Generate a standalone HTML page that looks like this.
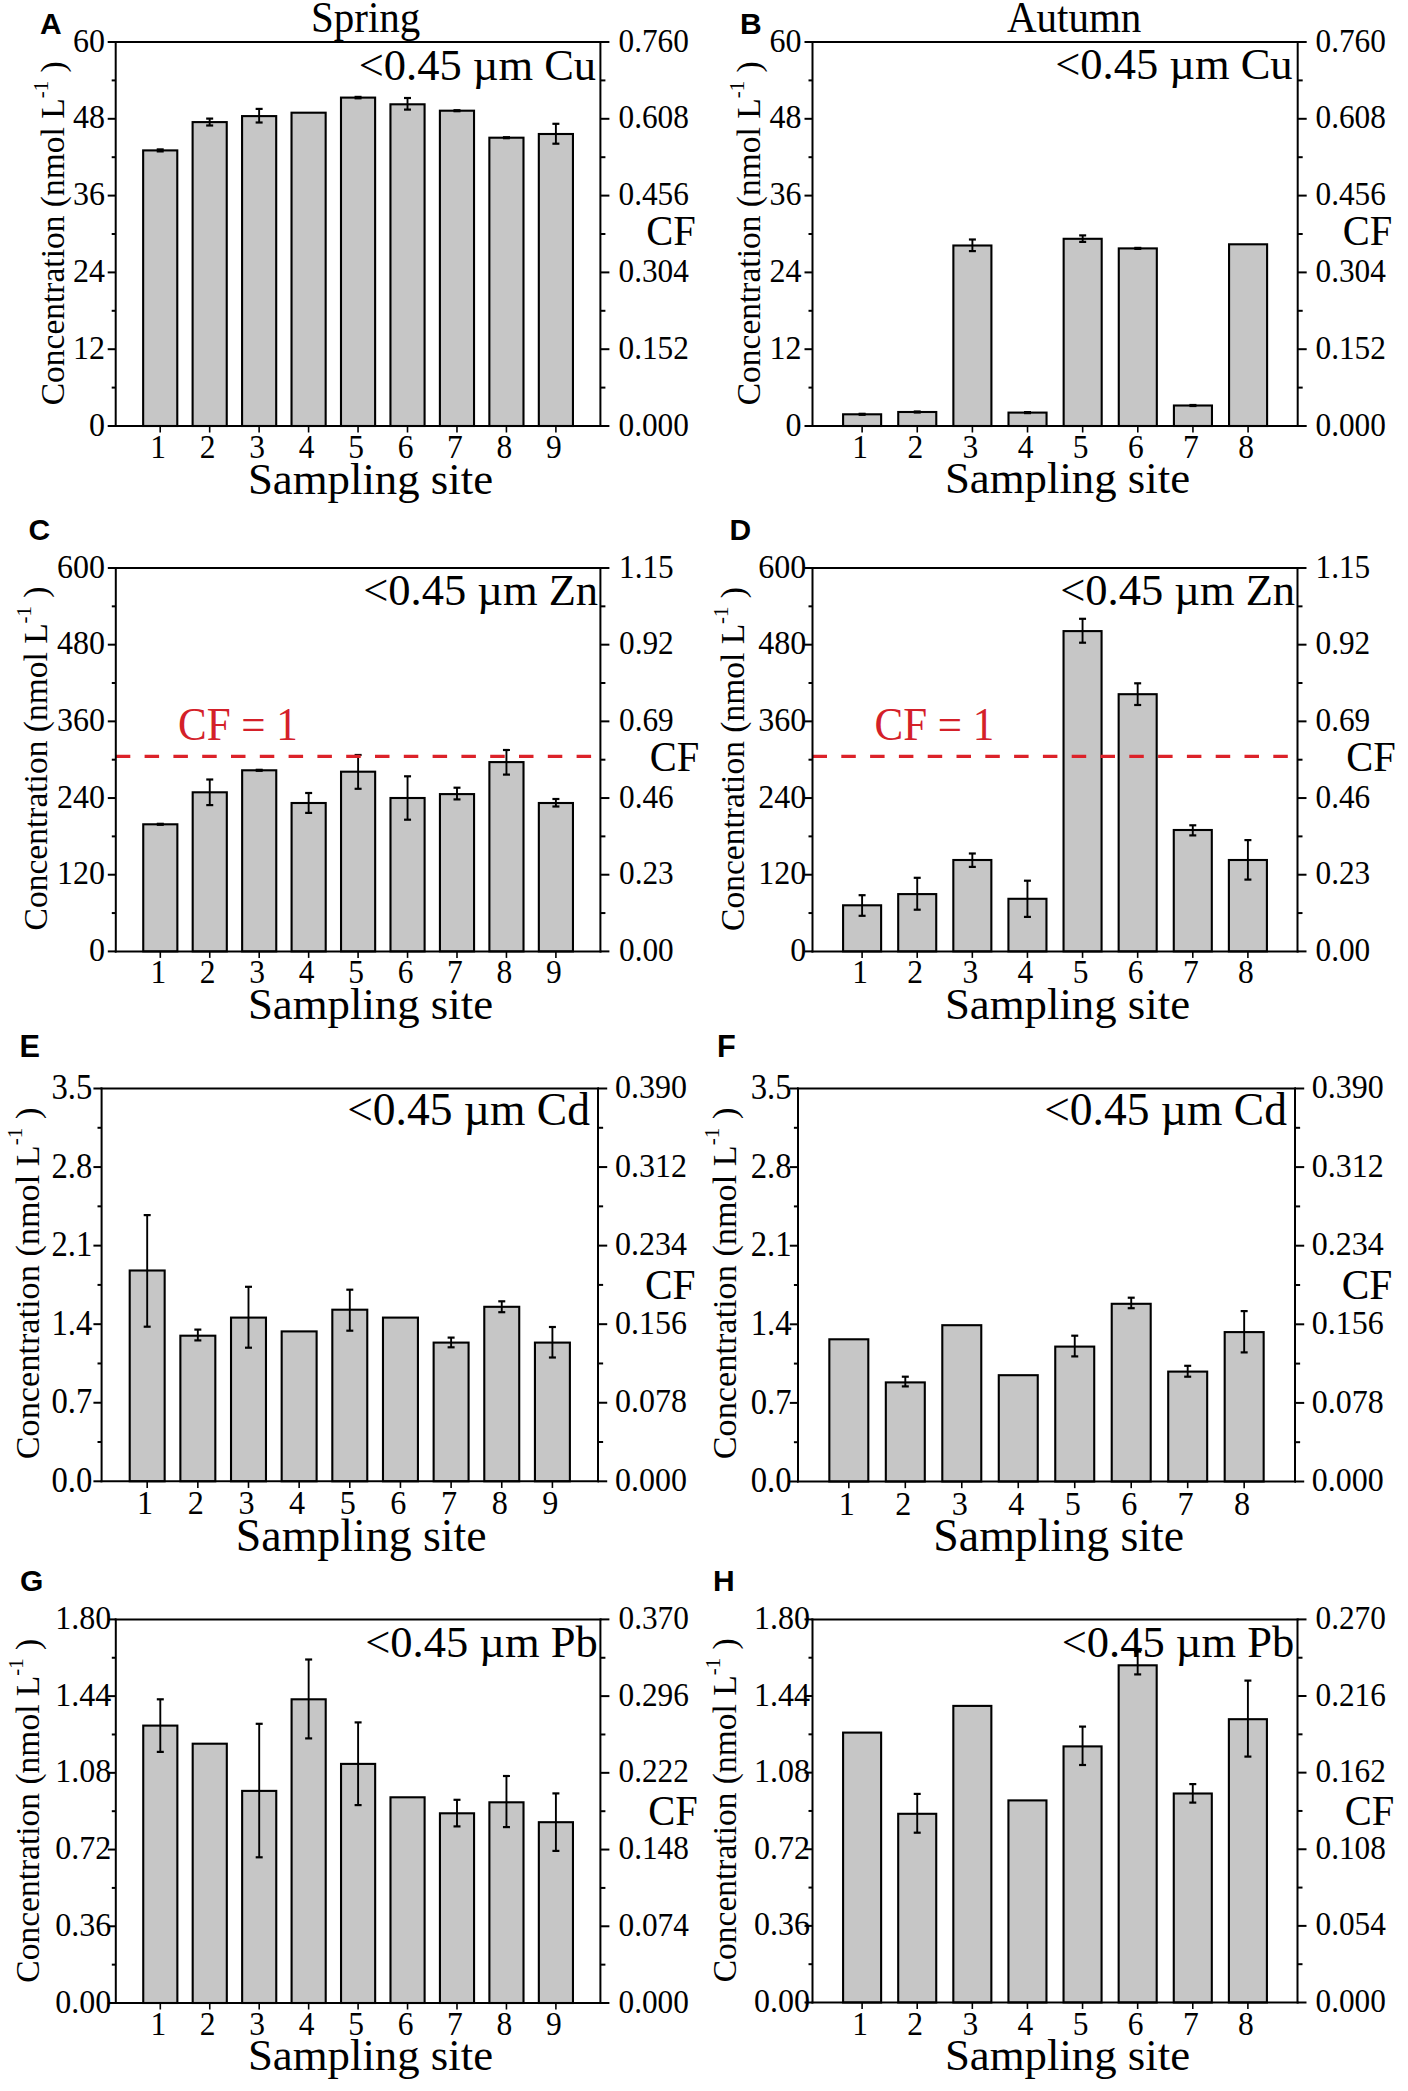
<!DOCTYPE html>
<html><head><meta charset="utf-8"><style>
html,body{margin:0;padding:0;background:#fff;width:1408px;height:2091px;overflow:hidden}
svg{display:block}
</style></head><body>
<svg width="1408" height="2091" viewBox="0 0 1408 2091">
<rect width="1408" height="2091" fill="#fff"/>
<text transform="translate(311,32.3) scale(1,1.06)" font-size="41" text-anchor="start" fill="#000" font-family='"Liberation Serif", serif' font-weight="normal" >Spring</text>
<text transform="translate(1007,32.4) scale(1,1.06)" font-size="41" text-anchor="start" fill="#000" font-family='"Liberation Serif", serif' font-weight="normal" >Autumn</text>
<rect x="143.15" y="150.4" width="34.13" height="275.6" fill="#c6c6c6" stroke="#000" stroke-width="2.1"/>
<rect x="192.61" y="122.1" width="34.13" height="303.9" fill="#c6c6c6" stroke="#000" stroke-width="2.1"/>
<rect x="242.07" y="116.1" width="34.13" height="309.9" fill="#c6c6c6" stroke="#000" stroke-width="2.1"/>
<rect x="291.53" y="112.7" width="34.13" height="313.3" fill="#c6c6c6" stroke="#000" stroke-width="2.1"/>
<rect x="340.99" y="97.6" width="34.13" height="328.4" fill="#c6c6c6" stroke="#000" stroke-width="2.1"/>
<rect x="390.45" y="104.3" width="34.13" height="321.7" fill="#c6c6c6" stroke="#000" stroke-width="2.1"/>
<rect x="439.9" y="110.7" width="34.13" height="315.3" fill="#c6c6c6" stroke="#000" stroke-width="2.1"/>
<rect x="489.36" y="137.7" width="34.13" height="288.3" fill="#c6c6c6" stroke="#000" stroke-width="2.1"/>
<rect x="538.82" y="134" width="34.13" height="292" fill="#c6c6c6" stroke="#000" stroke-width="2.1"/>
<line x1="160.21" y1="149.4" x2="160.21" y2="151.4" stroke="#000" stroke-width="1.9" />
<line x1="156.71" y1="149.4" x2="163.71" y2="149.4" stroke="#000" stroke-width="2.2" />
<line x1="156.71" y1="151.4" x2="163.71" y2="151.4" stroke="#000" stroke-width="2.2" />
<line x1="209.67" y1="118.6" x2="209.67" y2="125.5" stroke="#000" stroke-width="1.9" />
<line x1="206.17" y1="118.6" x2="213.17" y2="118.6" stroke="#000" stroke-width="2.2" />
<line x1="206.17" y1="125.5" x2="213.17" y2="125.5" stroke="#000" stroke-width="2.2" />
<line x1="259.13" y1="108.9" x2="259.13" y2="122.5" stroke="#000" stroke-width="1.9" />
<line x1="255.63" y1="108.9" x2="262.63" y2="108.9" stroke="#000" stroke-width="2.2" />
<line x1="255.63" y1="122.5" x2="262.63" y2="122.5" stroke="#000" stroke-width="2.2" />
<line x1="358.05" y1="96.9" x2="358.05" y2="98.3" stroke="#000" stroke-width="1.9" />
<line x1="354.55" y1="96.9" x2="361.55" y2="96.9" stroke="#000" stroke-width="2.2" />
<line x1="354.55" y1="98.3" x2="361.55" y2="98.3" stroke="#000" stroke-width="2.2" />
<line x1="407.51" y1="98" x2="407.51" y2="109.6" stroke="#000" stroke-width="1.9" />
<line x1="404.01" y1="98" x2="411.01" y2="98" stroke="#000" stroke-width="2.2" />
<line x1="404.01" y1="109.6" x2="411.01" y2="109.6" stroke="#000" stroke-width="2.2" />
<line x1="456.97" y1="110.2" x2="456.97" y2="111.2" stroke="#000" stroke-width="1.9" />
<line x1="453.47" y1="110.2" x2="460.47" y2="110.2" stroke="#000" stroke-width="2.2" />
<line x1="453.47" y1="111.2" x2="460.47" y2="111.2" stroke="#000" stroke-width="2.2" />
<line x1="506.43" y1="137.2" x2="506.43" y2="138.2" stroke="#000" stroke-width="1.9" />
<line x1="502.93" y1="137.2" x2="509.93" y2="137.2" stroke="#000" stroke-width="2.2" />
<line x1="502.93" y1="138.2" x2="509.93" y2="138.2" stroke="#000" stroke-width="2.2" />
<line x1="555.89" y1="123.8" x2="555.89" y2="143.7" stroke="#000" stroke-width="1.9" />
<line x1="552.39" y1="123.8" x2="559.39" y2="123.8" stroke="#000" stroke-width="2.2" />
<line x1="552.39" y1="143.7" x2="559.39" y2="143.7" stroke="#000" stroke-width="2.2" />
<line x1="115.7" y1="42" x2="600.4" y2="42" stroke="#000" stroke-width="2" stroke-linecap="square"/>
<line x1="115.7" y1="426" x2="600.4" y2="426" stroke="#000" stroke-width="2" stroke-linecap="square"/>
<line x1="115.7" y1="42" x2="115.7" y2="426" stroke="#000" stroke-width="2" stroke-linecap="square"/>
<line x1="600.4" y1="42" x2="600.4" y2="426" stroke="#000" stroke-width="2" stroke-linecap="square"/>
<line x1="107.7" y1="426" x2="115.7" y2="426" stroke="#000" stroke-width="2" />
<line x1="600.4" y1="426" x2="609.4" y2="426" stroke="#000" stroke-width="2" />
<line x1="111.7" y1="387.6" x2="115.7" y2="387.6" stroke="#000" stroke-width="2" />
<line x1="600.4" y1="387.6" x2="605.4" y2="387.6" stroke="#000" stroke-width="2" />
<text transform="translate(105,435.5) scale(1,1.08)" font-size="32" text-anchor="end" fill="#000" font-family='"Liberation Serif", serif' font-weight="normal" >0</text>
<text transform="translate(618.5,435.5) scale(1,1.05)" font-size="31.3" text-anchor="start" fill="#000" font-family='"Liberation Serif", serif' font-weight="normal" >0.000</text>
<line x1="107.7" y1="349.2" x2="115.7" y2="349.2" stroke="#000" stroke-width="2" />
<line x1="600.4" y1="349.2" x2="609.4" y2="349.2" stroke="#000" stroke-width="2" />
<line x1="111.7" y1="310.8" x2="115.7" y2="310.8" stroke="#000" stroke-width="2" />
<line x1="600.4" y1="310.8" x2="605.4" y2="310.8" stroke="#000" stroke-width="2" />
<text transform="translate(105,358.7) scale(1,1.08)" font-size="32" text-anchor="end" fill="#000" font-family='"Liberation Serif", serif' font-weight="normal" >12</text>
<text transform="translate(618.5,358.7) scale(1,1.05)" font-size="31.3" text-anchor="start" fill="#000" font-family='"Liberation Serif", serif' font-weight="normal" >0.152</text>
<line x1="107.7" y1="272.4" x2="115.7" y2="272.4" stroke="#000" stroke-width="2" />
<line x1="600.4" y1="272.4" x2="609.4" y2="272.4" stroke="#000" stroke-width="2" />
<line x1="111.7" y1="234" x2="115.7" y2="234" stroke="#000" stroke-width="2" />
<line x1="600.4" y1="234" x2="605.4" y2="234" stroke="#000" stroke-width="2" />
<text transform="translate(105,281.9) scale(1,1.08)" font-size="32" text-anchor="end" fill="#000" font-family='"Liberation Serif", serif' font-weight="normal" >24</text>
<text transform="translate(618.5,281.9) scale(1,1.05)" font-size="31.3" text-anchor="start" fill="#000" font-family='"Liberation Serif", serif' font-weight="normal" >0.304</text>
<line x1="107.7" y1="195.6" x2="115.7" y2="195.6" stroke="#000" stroke-width="2" />
<line x1="600.4" y1="195.6" x2="609.4" y2="195.6" stroke="#000" stroke-width="2" />
<line x1="111.7" y1="157.2" x2="115.7" y2="157.2" stroke="#000" stroke-width="2" />
<line x1="600.4" y1="157.2" x2="605.4" y2="157.2" stroke="#000" stroke-width="2" />
<text transform="translate(105,205.1) scale(1,1.08)" font-size="32" text-anchor="end" fill="#000" font-family='"Liberation Serif", serif' font-weight="normal" >36</text>
<text transform="translate(618.5,205.1) scale(1,1.05)" font-size="31.3" text-anchor="start" fill="#000" font-family='"Liberation Serif", serif' font-weight="normal" >0.456</text>
<line x1="107.7" y1="118.8" x2="115.7" y2="118.8" stroke="#000" stroke-width="2" />
<line x1="600.4" y1="118.8" x2="609.4" y2="118.8" stroke="#000" stroke-width="2" />
<line x1="111.7" y1="80.4" x2="115.7" y2="80.4" stroke="#000" stroke-width="2" />
<line x1="600.4" y1="80.4" x2="605.4" y2="80.4" stroke="#000" stroke-width="2" />
<text transform="translate(105,128.3) scale(1,1.08)" font-size="32" text-anchor="end" fill="#000" font-family='"Liberation Serif", serif' font-weight="normal" >48</text>
<text transform="translate(618.5,128.3) scale(1,1.05)" font-size="31.3" text-anchor="start" fill="#000" font-family='"Liberation Serif", serif' font-weight="normal" >0.608</text>
<line x1="107.7" y1="42" x2="115.7" y2="42" stroke="#000" stroke-width="2" />
<line x1="600.4" y1="42" x2="609.4" y2="42" stroke="#000" stroke-width="2" />
<text transform="translate(105,51.5) scale(1,1.08)" font-size="32" text-anchor="end" fill="#000" font-family='"Liberation Serif", serif' font-weight="normal" >60</text>
<text transform="translate(618.5,51.5) scale(1,1.05)" font-size="31.3" text-anchor="start" fill="#000" font-family='"Liberation Serif", serif' font-weight="normal" >0.760</text>
<line x1="160.21" y1="426" x2="160.21" y2="432.5" stroke="#000" stroke-width="1.6" />
<text transform="translate(158.21,457.5) scale(1,1.07)" font-size="31.5" text-anchor="middle" fill="#000" font-family='"Liberation Serif", serif' font-weight="normal" >1</text>
<line x1="209.67" y1="426" x2="209.67" y2="432.5" stroke="#000" stroke-width="1.6" />
<text transform="translate(207.67,457.5) scale(1,1.07)" font-size="31.5" text-anchor="middle" fill="#000" font-family='"Liberation Serif", serif' font-weight="normal" >2</text>
<line x1="259.13" y1="426" x2="259.13" y2="432.5" stroke="#000" stroke-width="1.6" />
<text transform="translate(257.13,457.5) scale(1,1.07)" font-size="31.5" text-anchor="middle" fill="#000" font-family='"Liberation Serif", serif' font-weight="normal" >3</text>
<line x1="308.59" y1="426" x2="308.59" y2="432.5" stroke="#000" stroke-width="1.6" />
<text transform="translate(306.59,457.5) scale(1,1.07)" font-size="31.5" text-anchor="middle" fill="#000" font-family='"Liberation Serif", serif' font-weight="normal" >4</text>
<line x1="358.05" y1="426" x2="358.05" y2="432.5" stroke="#000" stroke-width="1.6" />
<text transform="translate(356.05,457.5) scale(1,1.07)" font-size="31.5" text-anchor="middle" fill="#000" font-family='"Liberation Serif", serif' font-weight="normal" >5</text>
<line x1="407.51" y1="426" x2="407.51" y2="432.5" stroke="#000" stroke-width="1.6" />
<text transform="translate(405.51,457.5) scale(1,1.07)" font-size="31.5" text-anchor="middle" fill="#000" font-family='"Liberation Serif", serif' font-weight="normal" >6</text>
<line x1="456.97" y1="426" x2="456.97" y2="432.5" stroke="#000" stroke-width="1.6" />
<text transform="translate(454.97,457.5) scale(1,1.07)" font-size="31.5" text-anchor="middle" fill="#000" font-family='"Liberation Serif", serif' font-weight="normal" >7</text>
<line x1="506.43" y1="426" x2="506.43" y2="432.5" stroke="#000" stroke-width="1.6" />
<text transform="translate(504.43,457.5) scale(1,1.07)" font-size="31.5" text-anchor="middle" fill="#000" font-family='"Liberation Serif", serif' font-weight="normal" >8</text>
<line x1="555.89" y1="426" x2="555.89" y2="432.5" stroke="#000" stroke-width="1.6" />
<text transform="translate(553.89,457.5) scale(1,1.07)" font-size="31.5" text-anchor="middle" fill="#000" font-family='"Liberation Serif", serif' font-weight="normal" >9</text>
<text x="247.9" y="493.7" font-size="44.8" text-anchor="start" fill="#000" font-family='"Liberation Serif", serif' font-weight="normal" >Sampling site</text>
<text x="358.7" y="79.5" font-size="44.5" text-anchor="start" fill="#000" font-family='"Liberation Serif", serif' font-weight="normal" >&lt;0.45 µm Cu</text>
<text transform="translate(646.3,245.3) scale(1,1.02)" font-size="40.5" text-anchor="start" fill="#000" font-family='"Liberation Serif", serif' font-weight="normal" >CF</text>
<text x="40" y="33.8" font-size="30" text-anchor="start" fill="#000" font-family='"Liberation Sans", sans-serif' font-weight="bold" >A</text>
<text transform="translate(64.3,405.3) rotate(-90)" font-size="33.5" font-family='"Liberation Serif", serif'>Concentration (nmol L<tspan font-size="20.77" dy="-16.08">-1</tspan><tspan dy="16.08" dx="8.38">)</tspan></text>
<rect x="843.1" y="414.3" width="38.04" height="11.7" fill="#c6c6c6" stroke="#000" stroke-width="2.1"/>
<rect x="898.24" y="412" width="38.04" height="14" fill="#c6c6c6" stroke="#000" stroke-width="2.1"/>
<rect x="953.37" y="245.5" width="38.04" height="180.5" fill="#c6c6c6" stroke="#000" stroke-width="2.1"/>
<rect x="1008.51" y="412.6" width="38.04" height="13.4" fill="#c6c6c6" stroke="#000" stroke-width="2.1"/>
<rect x="1063.65" y="238.8" width="38.04" height="187.2" fill="#c6c6c6" stroke="#000" stroke-width="2.1"/>
<rect x="1118.78" y="248.4" width="38.04" height="177.6" fill="#c6c6c6" stroke="#000" stroke-width="2.1"/>
<rect x="1173.92" y="405.5" width="38.04" height="20.5" fill="#c6c6c6" stroke="#000" stroke-width="2.1"/>
<rect x="1229.06" y="244.3" width="38.04" height="181.7" fill="#c6c6c6" stroke="#000" stroke-width="2.1"/>
<line x1="862.12" y1="413.8" x2="862.12" y2="414.8" stroke="#000" stroke-width="1.9" />
<line x1="858.62" y1="413.8" x2="865.62" y2="413.8" stroke="#000" stroke-width="2.2" />
<line x1="858.62" y1="414.8" x2="865.62" y2="414.8" stroke="#000" stroke-width="2.2" />
<line x1="917.26" y1="411.5" x2="917.26" y2="412.5" stroke="#000" stroke-width="1.9" />
<line x1="913.76" y1="411.5" x2="920.76" y2="411.5" stroke="#000" stroke-width="2.2" />
<line x1="913.76" y1="412.5" x2="920.76" y2="412.5" stroke="#000" stroke-width="2.2" />
<line x1="972.4" y1="239.5" x2="972.4" y2="251.1" stroke="#000" stroke-width="1.9" />
<line x1="968.9" y1="239.5" x2="975.9" y2="239.5" stroke="#000" stroke-width="2.2" />
<line x1="968.9" y1="251.1" x2="975.9" y2="251.1" stroke="#000" stroke-width="2.2" />
<line x1="1027.53" y1="412.1" x2="1027.53" y2="413.1" stroke="#000" stroke-width="1.9" />
<line x1="1024.03" y1="412.1" x2="1031.03" y2="412.1" stroke="#000" stroke-width="2.2" />
<line x1="1024.03" y1="413.1" x2="1031.03" y2="413.1" stroke="#000" stroke-width="2.2" />
<line x1="1082.67" y1="235.4" x2="1082.67" y2="241.9" stroke="#000" stroke-width="1.9" />
<line x1="1079.17" y1="235.4" x2="1086.17" y2="235.4" stroke="#000" stroke-width="2.2" />
<line x1="1079.17" y1="241.9" x2="1086.17" y2="241.9" stroke="#000" stroke-width="2.2" />
<line x1="1137.8" y1="247.9" x2="1137.8" y2="248.9" stroke="#000" stroke-width="1.9" />
<line x1="1134.3" y1="247.9" x2="1141.3" y2="247.9" stroke="#000" stroke-width="2.2" />
<line x1="1134.3" y1="248.9" x2="1141.3" y2="248.9" stroke="#000" stroke-width="2.2" />
<line x1="1192.94" y1="405" x2="1192.94" y2="406" stroke="#000" stroke-width="1.9" />
<line x1="1189.44" y1="405" x2="1196.44" y2="405" stroke="#000" stroke-width="2.2" />
<line x1="1189.44" y1="406" x2="1196.44" y2="406" stroke="#000" stroke-width="2.2" />
<line x1="812.5" y1="42" x2="1297.7" y2="42" stroke="#000" stroke-width="2" stroke-linecap="square"/>
<line x1="812.5" y1="426" x2="1297.7" y2="426" stroke="#000" stroke-width="2" stroke-linecap="square"/>
<line x1="812.5" y1="42" x2="812.5" y2="426" stroke="#000" stroke-width="2" stroke-linecap="square"/>
<line x1="1297.7" y1="42" x2="1297.7" y2="426" stroke="#000" stroke-width="2" stroke-linecap="square"/>
<line x1="804.5" y1="426" x2="812.5" y2="426" stroke="#000" stroke-width="2" />
<line x1="1297.7" y1="426" x2="1306.7" y2="426" stroke="#000" stroke-width="2" />
<line x1="808.5" y1="387.6" x2="812.5" y2="387.6" stroke="#000" stroke-width="2" />
<line x1="1297.7" y1="387.6" x2="1302.7" y2="387.6" stroke="#000" stroke-width="2" />
<text transform="translate(801.4,435.5) scale(1,1.08)" font-size="32" text-anchor="end" fill="#000" font-family='"Liberation Serif", serif' font-weight="normal" >0</text>
<text transform="translate(1315.5,435.5) scale(1,1.05)" font-size="31.3" text-anchor="start" fill="#000" font-family='"Liberation Serif", serif' font-weight="normal" >0.000</text>
<line x1="804.5" y1="349.2" x2="812.5" y2="349.2" stroke="#000" stroke-width="2" />
<line x1="1297.7" y1="349.2" x2="1306.7" y2="349.2" stroke="#000" stroke-width="2" />
<line x1="808.5" y1="310.8" x2="812.5" y2="310.8" stroke="#000" stroke-width="2" />
<line x1="1297.7" y1="310.8" x2="1302.7" y2="310.8" stroke="#000" stroke-width="2" />
<text transform="translate(801.4,358.7) scale(1,1.08)" font-size="32" text-anchor="end" fill="#000" font-family='"Liberation Serif", serif' font-weight="normal" >12</text>
<text transform="translate(1315.5,358.7) scale(1,1.05)" font-size="31.3" text-anchor="start" fill="#000" font-family='"Liberation Serif", serif' font-weight="normal" >0.152</text>
<line x1="804.5" y1="272.4" x2="812.5" y2="272.4" stroke="#000" stroke-width="2" />
<line x1="1297.7" y1="272.4" x2="1306.7" y2="272.4" stroke="#000" stroke-width="2" />
<line x1="808.5" y1="234" x2="812.5" y2="234" stroke="#000" stroke-width="2" />
<line x1="1297.7" y1="234" x2="1302.7" y2="234" stroke="#000" stroke-width="2" />
<text transform="translate(801.4,281.9) scale(1,1.08)" font-size="32" text-anchor="end" fill="#000" font-family='"Liberation Serif", serif' font-weight="normal" >24</text>
<text transform="translate(1315.5,281.9) scale(1,1.05)" font-size="31.3" text-anchor="start" fill="#000" font-family='"Liberation Serif", serif' font-weight="normal" >0.304</text>
<line x1="804.5" y1="195.6" x2="812.5" y2="195.6" stroke="#000" stroke-width="2" />
<line x1="1297.7" y1="195.6" x2="1306.7" y2="195.6" stroke="#000" stroke-width="2" />
<line x1="808.5" y1="157.2" x2="812.5" y2="157.2" stroke="#000" stroke-width="2" />
<line x1="1297.7" y1="157.2" x2="1302.7" y2="157.2" stroke="#000" stroke-width="2" />
<text transform="translate(801.4,205.1) scale(1,1.08)" font-size="32" text-anchor="end" fill="#000" font-family='"Liberation Serif", serif' font-weight="normal" >36</text>
<text transform="translate(1315.5,205.1) scale(1,1.05)" font-size="31.3" text-anchor="start" fill="#000" font-family='"Liberation Serif", serif' font-weight="normal" >0.456</text>
<line x1="804.5" y1="118.8" x2="812.5" y2="118.8" stroke="#000" stroke-width="2" />
<line x1="1297.7" y1="118.8" x2="1306.7" y2="118.8" stroke="#000" stroke-width="2" />
<line x1="808.5" y1="80.4" x2="812.5" y2="80.4" stroke="#000" stroke-width="2" />
<line x1="1297.7" y1="80.4" x2="1302.7" y2="80.4" stroke="#000" stroke-width="2" />
<text transform="translate(801.4,128.3) scale(1,1.08)" font-size="32" text-anchor="end" fill="#000" font-family='"Liberation Serif", serif' font-weight="normal" >48</text>
<text transform="translate(1315.5,128.3) scale(1,1.05)" font-size="31.3" text-anchor="start" fill="#000" font-family='"Liberation Serif", serif' font-weight="normal" >0.608</text>
<line x1="804.5" y1="42" x2="812.5" y2="42" stroke="#000" stroke-width="2" />
<line x1="1297.7" y1="42" x2="1306.7" y2="42" stroke="#000" stroke-width="2" />
<text transform="translate(801.4,51.5) scale(1,1.08)" font-size="32" text-anchor="end" fill="#000" font-family='"Liberation Serif", serif' font-weight="normal" >60</text>
<text transform="translate(1315.5,51.5) scale(1,1.05)" font-size="31.3" text-anchor="start" fill="#000" font-family='"Liberation Serif", serif' font-weight="normal" >0.760</text>
<line x1="862.12" y1="426" x2="862.12" y2="432.5" stroke="#000" stroke-width="1.6" />
<text transform="translate(860.12,457.5) scale(1,1.07)" font-size="31.5" text-anchor="middle" fill="#000" font-family='"Liberation Serif", serif' font-weight="normal" >1</text>
<line x1="917.26" y1="426" x2="917.26" y2="432.5" stroke="#000" stroke-width="1.6" />
<text transform="translate(915.26,457.5) scale(1,1.07)" font-size="31.5" text-anchor="middle" fill="#000" font-family='"Liberation Serif", serif' font-weight="normal" >2</text>
<line x1="972.4" y1="426" x2="972.4" y2="432.5" stroke="#000" stroke-width="1.6" />
<text transform="translate(970.4,457.5) scale(1,1.07)" font-size="31.5" text-anchor="middle" fill="#000" font-family='"Liberation Serif", serif' font-weight="normal" >3</text>
<line x1="1027.53" y1="426" x2="1027.53" y2="432.5" stroke="#000" stroke-width="1.6" />
<text transform="translate(1025.53,457.5) scale(1,1.07)" font-size="31.5" text-anchor="middle" fill="#000" font-family='"Liberation Serif", serif' font-weight="normal" >4</text>
<line x1="1082.67" y1="426" x2="1082.67" y2="432.5" stroke="#000" stroke-width="1.6" />
<text transform="translate(1080.67,457.5) scale(1,1.07)" font-size="31.5" text-anchor="middle" fill="#000" font-family='"Liberation Serif", serif' font-weight="normal" >5</text>
<line x1="1137.8" y1="426" x2="1137.8" y2="432.5" stroke="#000" stroke-width="1.6" />
<text transform="translate(1135.8,457.5) scale(1,1.07)" font-size="31.5" text-anchor="middle" fill="#000" font-family='"Liberation Serif", serif' font-weight="normal" >6</text>
<line x1="1192.94" y1="426" x2="1192.94" y2="432.5" stroke="#000" stroke-width="1.6" />
<text transform="translate(1190.94,457.5) scale(1,1.07)" font-size="31.5" text-anchor="middle" fill="#000" font-family='"Liberation Serif", serif' font-weight="normal" >7</text>
<line x1="1248.08" y1="426" x2="1248.08" y2="432.5" stroke="#000" stroke-width="1.6" />
<text transform="translate(1246.08,457.5) scale(1,1.07)" font-size="31.5" text-anchor="middle" fill="#000" font-family='"Liberation Serif", serif' font-weight="normal" >8</text>
<text x="944.9" y="493.2" font-size="44.8" text-anchor="start" fill="#000" font-family='"Liberation Serif", serif' font-weight="normal" >Sampling site</text>
<text x="1055.2" y="79" font-size="44.5" text-anchor="start" fill="#000" font-family='"Liberation Serif", serif' font-weight="normal" >&lt;0.45 µm Cu</text>
<text transform="translate(1342.8,245.3) scale(1,1.02)" font-size="40.5" text-anchor="start" fill="#000" font-family='"Liberation Serif", serif' font-weight="normal" >CF</text>
<text x="740" y="33.8" font-size="30" text-anchor="start" fill="#000" font-family='"Liberation Sans", sans-serif' font-weight="bold" >B</text>
<text transform="translate(760.3,405.3) rotate(-90)" font-size="33.5" font-family='"Liberation Serif", serif'>Concentration (nmol L<tspan font-size="20.77" dy="-16.08">-1</tspan><tspan dy="16.08" dx="8.38">)</tspan></text>
<rect x="143.24" y="824.3" width="34.12" height="127.1" fill="#c6c6c6" stroke="#000" stroke-width="2.1"/>
<rect x="192.69" y="792.3" width="34.12" height="159.1" fill="#c6c6c6" stroke="#000" stroke-width="2.1"/>
<rect x="242.14" y="770.3" width="34.12" height="181.1" fill="#c6c6c6" stroke="#000" stroke-width="2.1"/>
<rect x="291.59" y="803" width="34.12" height="148.4" fill="#c6c6c6" stroke="#000" stroke-width="2.1"/>
<rect x="341.04" y="771.7" width="34.12" height="179.7" fill="#c6c6c6" stroke="#000" stroke-width="2.1"/>
<rect x="390.49" y="798" width="34.12" height="153.4" fill="#c6c6c6" stroke="#000" stroke-width="2.1"/>
<rect x="439.94" y="794.1" width="34.12" height="157.3" fill="#c6c6c6" stroke="#000" stroke-width="2.1"/>
<rect x="489.39" y="762.1" width="34.12" height="189.3" fill="#c6c6c6" stroke="#000" stroke-width="2.1"/>
<rect x="538.84" y="803" width="34.12" height="148.4" fill="#c6c6c6" stroke="#000" stroke-width="2.1"/>
<line x1="160.3" y1="823.8" x2="160.3" y2="824.8" stroke="#000" stroke-width="1.9" />
<line x1="156.8" y1="823.8" x2="163.8" y2="823.8" stroke="#000" stroke-width="2.2" />
<line x1="156.8" y1="824.8" x2="163.8" y2="824.8" stroke="#000" stroke-width="2.2" />
<line x1="209.75" y1="779.5" x2="209.75" y2="805.1" stroke="#000" stroke-width="1.9" />
<line x1="206.25" y1="779.5" x2="213.25" y2="779.5" stroke="#000" stroke-width="2.2" />
<line x1="206.25" y1="805.1" x2="213.25" y2="805.1" stroke="#000" stroke-width="2.2" />
<line x1="259.2" y1="769.8" x2="259.2" y2="770.8" stroke="#000" stroke-width="1.9" />
<line x1="255.7" y1="769.8" x2="262.7" y2="769.8" stroke="#000" stroke-width="2.2" />
<line x1="255.7" y1="770.8" x2="262.7" y2="770.8" stroke="#000" stroke-width="2.2" />
<line x1="308.65" y1="793" x2="308.65" y2="812.9" stroke="#000" stroke-width="1.9" />
<line x1="305.15" y1="793" x2="312.15" y2="793" stroke="#000" stroke-width="2.2" />
<line x1="305.15" y1="812.9" x2="312.15" y2="812.9" stroke="#000" stroke-width="2.2" />
<line x1="358.1" y1="755" x2="358.1" y2="788.8" stroke="#000" stroke-width="1.9" />
<line x1="354.6" y1="755" x2="361.6" y2="755" stroke="#000" stroke-width="2.2" />
<line x1="354.6" y1="788.8" x2="361.6" y2="788.8" stroke="#000" stroke-width="2.2" />
<line x1="407.55" y1="776.3" x2="407.55" y2="819.7" stroke="#000" stroke-width="1.9" />
<line x1="404.05" y1="776.3" x2="411.05" y2="776.3" stroke="#000" stroke-width="2.2" />
<line x1="404.05" y1="819.7" x2="411.05" y2="819.7" stroke="#000" stroke-width="2.2" />
<line x1="457" y1="787.7" x2="457" y2="799.4" stroke="#000" stroke-width="1.9" />
<line x1="453.5" y1="787.7" x2="460.5" y2="787.7" stroke="#000" stroke-width="2.2" />
<line x1="453.5" y1="799.4" x2="460.5" y2="799.4" stroke="#000" stroke-width="2.2" />
<line x1="506.45" y1="750" x2="506.45" y2="774.6" stroke="#000" stroke-width="1.9" />
<line x1="502.95" y1="750" x2="509.95" y2="750" stroke="#000" stroke-width="2.2" />
<line x1="502.95" y1="774.6" x2="509.95" y2="774.6" stroke="#000" stroke-width="2.2" />
<line x1="555.9" y1="799" x2="555.9" y2="806.5" stroke="#000" stroke-width="1.9" />
<line x1="552.4" y1="799" x2="559.4" y2="799" stroke="#000" stroke-width="2.2" />
<line x1="552.4" y1="806.5" x2="559.4" y2="806.5" stroke="#000" stroke-width="2.2" />
<line x1="115.8" y1="756.3" x2="600.4" y2="756.3" stroke="#dc2229" stroke-width="3.2" stroke-dasharray="14.5 14.3"/>
<line x1="115.8" y1="568" x2="600.4" y2="568" stroke="#000" stroke-width="2" stroke-linecap="square"/>
<line x1="115.8" y1="951.4" x2="600.4" y2="951.4" stroke="#000" stroke-width="2" stroke-linecap="square"/>
<line x1="115.8" y1="568" x2="115.8" y2="951.4" stroke="#000" stroke-width="2" stroke-linecap="square"/>
<line x1="600.4" y1="568" x2="600.4" y2="951.4" stroke="#000" stroke-width="2" stroke-linecap="square"/>
<line x1="107.8" y1="951.4" x2="115.8" y2="951.4" stroke="#000" stroke-width="2" />
<line x1="600.4" y1="951.4" x2="609.4" y2="951.4" stroke="#000" stroke-width="2" />
<line x1="111.8" y1="913.06" x2="115.8" y2="913.06" stroke="#000" stroke-width="2" />
<line x1="600.4" y1="913.06" x2="605.4" y2="913.06" stroke="#000" stroke-width="2" />
<text transform="translate(105,960.9) scale(1,1.08)" font-size="32" text-anchor="end" fill="#000" font-family='"Liberation Serif", serif' font-weight="normal" >0</text>
<text transform="translate(619,960.9) scale(1,1.05)" font-size="31.3" text-anchor="start" fill="#000" font-family='"Liberation Serif", serif' font-weight="normal" >0.00</text>
<line x1="107.8" y1="874.72" x2="115.8" y2="874.72" stroke="#000" stroke-width="2" />
<line x1="600.4" y1="874.72" x2="609.4" y2="874.72" stroke="#000" stroke-width="2" />
<line x1="111.8" y1="836.38" x2="115.8" y2="836.38" stroke="#000" stroke-width="2" />
<line x1="600.4" y1="836.38" x2="605.4" y2="836.38" stroke="#000" stroke-width="2" />
<text transform="translate(105,884.22) scale(1,1.08)" font-size="32" text-anchor="end" fill="#000" font-family='"Liberation Serif", serif' font-weight="normal" >120</text>
<text transform="translate(619,884.22) scale(1,1.05)" font-size="31.3" text-anchor="start" fill="#000" font-family='"Liberation Serif", serif' font-weight="normal" >0.23</text>
<line x1="107.8" y1="798.04" x2="115.8" y2="798.04" stroke="#000" stroke-width="2" />
<line x1="600.4" y1="798.04" x2="609.4" y2="798.04" stroke="#000" stroke-width="2" />
<line x1="111.8" y1="759.7" x2="115.8" y2="759.7" stroke="#000" stroke-width="2" />
<line x1="600.4" y1="759.7" x2="605.4" y2="759.7" stroke="#000" stroke-width="2" />
<text transform="translate(105,807.54) scale(1,1.08)" font-size="32" text-anchor="end" fill="#000" font-family='"Liberation Serif", serif' font-weight="normal" >240</text>
<text transform="translate(619,807.54) scale(1,1.05)" font-size="31.3" text-anchor="start" fill="#000" font-family='"Liberation Serif", serif' font-weight="normal" >0.46</text>
<line x1="107.8" y1="721.36" x2="115.8" y2="721.36" stroke="#000" stroke-width="2" />
<line x1="600.4" y1="721.36" x2="609.4" y2="721.36" stroke="#000" stroke-width="2" />
<line x1="111.8" y1="683.02" x2="115.8" y2="683.02" stroke="#000" stroke-width="2" />
<line x1="600.4" y1="683.02" x2="605.4" y2="683.02" stroke="#000" stroke-width="2" />
<text transform="translate(105,730.86) scale(1,1.08)" font-size="32" text-anchor="end" fill="#000" font-family='"Liberation Serif", serif' font-weight="normal" >360</text>
<text transform="translate(619,730.86) scale(1,1.05)" font-size="31.3" text-anchor="start" fill="#000" font-family='"Liberation Serif", serif' font-weight="normal" >0.69</text>
<line x1="107.8" y1="644.68" x2="115.8" y2="644.68" stroke="#000" stroke-width="2" />
<line x1="600.4" y1="644.68" x2="609.4" y2="644.68" stroke="#000" stroke-width="2" />
<line x1="111.8" y1="606.34" x2="115.8" y2="606.34" stroke="#000" stroke-width="2" />
<line x1="600.4" y1="606.34" x2="605.4" y2="606.34" stroke="#000" stroke-width="2" />
<text transform="translate(105,654.18) scale(1,1.08)" font-size="32" text-anchor="end" fill="#000" font-family='"Liberation Serif", serif' font-weight="normal" >480</text>
<text transform="translate(619,654.18) scale(1,1.05)" font-size="31.3" text-anchor="start" fill="#000" font-family='"Liberation Serif", serif' font-weight="normal" >0.92</text>
<line x1="107.8" y1="568" x2="115.8" y2="568" stroke="#000" stroke-width="2" />
<line x1="600.4" y1="568" x2="609.4" y2="568" stroke="#000" stroke-width="2" />
<text transform="translate(105,577.5) scale(1,1.08)" font-size="32" text-anchor="end" fill="#000" font-family='"Liberation Serif", serif' font-weight="normal" >600</text>
<text transform="translate(619,577.5) scale(1,1.05)" font-size="31.3" text-anchor="start" fill="#000" font-family='"Liberation Serif", serif' font-weight="normal" >1.15</text>
<line x1="160.3" y1="951.4" x2="160.3" y2="957.9" stroke="#000" stroke-width="1.6" />
<text transform="translate(158.3,982.9) scale(1,1.07)" font-size="31.5" text-anchor="middle" fill="#000" font-family='"Liberation Serif", serif' font-weight="normal" >1</text>
<line x1="209.75" y1="951.4" x2="209.75" y2="957.9" stroke="#000" stroke-width="1.6" />
<text transform="translate(207.75,982.9) scale(1,1.07)" font-size="31.5" text-anchor="middle" fill="#000" font-family='"Liberation Serif", serif' font-weight="normal" >2</text>
<line x1="259.2" y1="951.4" x2="259.2" y2="957.9" stroke="#000" stroke-width="1.6" />
<text transform="translate(257.2,982.9) scale(1,1.07)" font-size="31.5" text-anchor="middle" fill="#000" font-family='"Liberation Serif", serif' font-weight="normal" >3</text>
<line x1="308.65" y1="951.4" x2="308.65" y2="957.9" stroke="#000" stroke-width="1.6" />
<text transform="translate(306.65,982.9) scale(1,1.07)" font-size="31.5" text-anchor="middle" fill="#000" font-family='"Liberation Serif", serif' font-weight="normal" >4</text>
<line x1="358.1" y1="951.4" x2="358.1" y2="957.9" stroke="#000" stroke-width="1.6" />
<text transform="translate(356.1,982.9) scale(1,1.07)" font-size="31.5" text-anchor="middle" fill="#000" font-family='"Liberation Serif", serif' font-weight="normal" >5</text>
<line x1="407.55" y1="951.4" x2="407.55" y2="957.9" stroke="#000" stroke-width="1.6" />
<text transform="translate(405.55,982.9) scale(1,1.07)" font-size="31.5" text-anchor="middle" fill="#000" font-family='"Liberation Serif", serif' font-weight="normal" >6</text>
<line x1="457" y1="951.4" x2="457" y2="957.9" stroke="#000" stroke-width="1.6" />
<text transform="translate(455,982.9) scale(1,1.07)" font-size="31.5" text-anchor="middle" fill="#000" font-family='"Liberation Serif", serif' font-weight="normal" >7</text>
<line x1="506.45" y1="951.4" x2="506.45" y2="957.9" stroke="#000" stroke-width="1.6" />
<text transform="translate(504.45,982.9) scale(1,1.07)" font-size="31.5" text-anchor="middle" fill="#000" font-family='"Liberation Serif", serif' font-weight="normal" >8</text>
<line x1="555.9" y1="951.4" x2="555.9" y2="957.9" stroke="#000" stroke-width="1.6" />
<text transform="translate(553.9,982.9) scale(1,1.07)" font-size="31.5" text-anchor="middle" fill="#000" font-family='"Liberation Serif", serif' font-weight="normal" >9</text>
<text x="247.9" y="1019" font-size="44.8" text-anchor="start" fill="#000" font-family='"Liberation Serif", serif' font-weight="normal" >Sampling site</text>
<text x="363.2" y="605" font-size="44.5" text-anchor="start" fill="#000" font-family='"Liberation Serif", serif' font-weight="normal" >&lt;0.45 µm Zn</text>
<text transform="translate(649.7,770.8) scale(1,1.02)" font-size="40.5" text-anchor="start" fill="#000" font-family='"Liberation Serif", serif' font-weight="normal" >CF</text>
<text transform="translate(178,740) scale(1,1.06)" font-size="43" text-anchor="start" fill="#d42029" font-family='"Liberation Serif", serif' font-weight="normal" >CF = 1</text>
<text x="28.5" y="540" font-size="30" text-anchor="start" fill="#000" font-family='"Liberation Sans", sans-serif' font-weight="bold" >C</text>
<text transform="translate(47.3,930.4) rotate(-90)" font-size="33.5" font-family='"Liberation Serif", serif'>Concentration (nmol L<tspan font-size="20.77" dy="-16.08">-1</tspan><tspan dy="16.08" dx="8.38">)</tspan></text>
<rect x="843.09" y="905.3" width="38.03" height="46.1" fill="#c6c6c6" stroke="#000" stroke-width="2.1"/>
<rect x="898.2" y="894.1" width="38.03" height="57.3" fill="#c6c6c6" stroke="#000" stroke-width="2.1"/>
<rect x="953.32" y="860" width="38.03" height="91.4" fill="#c6c6c6" stroke="#000" stroke-width="2.1"/>
<rect x="1008.43" y="898.8" width="38.03" height="52.6" fill="#c6c6c6" stroke="#000" stroke-width="2.1"/>
<rect x="1063.54" y="631.1" width="38.03" height="320.3" fill="#c6c6c6" stroke="#000" stroke-width="2.1"/>
<rect x="1118.66" y="694.2" width="38.03" height="257.2" fill="#c6c6c6" stroke="#000" stroke-width="2.1"/>
<rect x="1173.77" y="830" width="38.03" height="121.4" fill="#c6c6c6" stroke="#000" stroke-width="2.1"/>
<rect x="1228.88" y="860" width="38.03" height="91.4" fill="#c6c6c6" stroke="#000" stroke-width="2.1"/>
<line x1="862.1" y1="895.2" x2="862.1" y2="915.8" stroke="#000" stroke-width="1.9" />
<line x1="858.6" y1="895.2" x2="865.6" y2="895.2" stroke="#000" stroke-width="2.2" />
<line x1="858.6" y1="915.8" x2="865.6" y2="915.8" stroke="#000" stroke-width="2.2" />
<line x1="917.22" y1="877.8" x2="917.22" y2="909.7" stroke="#000" stroke-width="1.9" />
<line x1="913.72" y1="877.8" x2="920.72" y2="877.8" stroke="#000" stroke-width="2.2" />
<line x1="913.72" y1="909.7" x2="920.72" y2="909.7" stroke="#000" stroke-width="2.2" />
<line x1="972.33" y1="853.5" x2="972.33" y2="866.9" stroke="#000" stroke-width="1.9" />
<line x1="968.83" y1="853.5" x2="975.83" y2="853.5" stroke="#000" stroke-width="2.2" />
<line x1="968.83" y1="866.9" x2="975.83" y2="866.9" stroke="#000" stroke-width="2.2" />
<line x1="1027.44" y1="880.7" x2="1027.44" y2="916.9" stroke="#000" stroke-width="1.9" />
<line x1="1023.94" y1="880.7" x2="1030.94" y2="880.7" stroke="#000" stroke-width="2.2" />
<line x1="1023.94" y1="916.9" x2="1030.94" y2="916.9" stroke="#000" stroke-width="2.2" />
<line x1="1082.56" y1="618.8" x2="1082.56" y2="642.7" stroke="#000" stroke-width="1.9" />
<line x1="1079.06" y1="618.8" x2="1086.06" y2="618.8" stroke="#000" stroke-width="2.2" />
<line x1="1079.06" y1="642.7" x2="1086.06" y2="642.7" stroke="#000" stroke-width="2.2" />
<line x1="1137.67" y1="683.3" x2="1137.67" y2="705" stroke="#000" stroke-width="1.9" />
<line x1="1134.17" y1="683.3" x2="1141.17" y2="683.3" stroke="#000" stroke-width="2.2" />
<line x1="1134.17" y1="705" x2="1141.17" y2="705" stroke="#000" stroke-width="2.2" />
<line x1="1192.78" y1="825.3" x2="1192.78" y2="835.4" stroke="#000" stroke-width="1.9" />
<line x1="1189.28" y1="825.3" x2="1196.28" y2="825.3" stroke="#000" stroke-width="2.2" />
<line x1="1189.28" y1="835.4" x2="1196.28" y2="835.4" stroke="#000" stroke-width="2.2" />
<line x1="1247.9" y1="840.1" x2="1247.9" y2="879.6" stroke="#000" stroke-width="1.9" />
<line x1="1244.4" y1="840.1" x2="1251.4" y2="840.1" stroke="#000" stroke-width="2.2" />
<line x1="1244.4" y1="879.6" x2="1251.4" y2="879.6" stroke="#000" stroke-width="2.2" />
<line x1="812.5" y1="756.3" x2="1297.5" y2="756.3" stroke="#dc2229" stroke-width="3.2" stroke-dasharray="14.5 14.3"/>
<line x1="812.5" y1="568" x2="1297.5" y2="568" stroke="#000" stroke-width="2" stroke-linecap="square"/>
<line x1="812.5" y1="951.4" x2="1297.5" y2="951.4" stroke="#000" stroke-width="2" stroke-linecap="square"/>
<line x1="812.5" y1="568" x2="812.5" y2="951.4" stroke="#000" stroke-width="2" stroke-linecap="square"/>
<line x1="1297.5" y1="568" x2="1297.5" y2="951.4" stroke="#000" stroke-width="2" stroke-linecap="square"/>
<line x1="804.5" y1="951.4" x2="812.5" y2="951.4" stroke="#000" stroke-width="2" />
<line x1="1297.5" y1="951.4" x2="1306.5" y2="951.4" stroke="#000" stroke-width="2" />
<line x1="808.5" y1="913.06" x2="812.5" y2="913.06" stroke="#000" stroke-width="2" />
<line x1="1297.5" y1="913.06" x2="1302.5" y2="913.06" stroke="#000" stroke-width="2" />
<text transform="translate(806.2,960.9) scale(1,1.08)" font-size="32" text-anchor="end" fill="#000" font-family='"Liberation Serif", serif' font-weight="normal" >0</text>
<text transform="translate(1315.5,960.9) scale(1,1.05)" font-size="31.3" text-anchor="start" fill="#000" font-family='"Liberation Serif", serif' font-weight="normal" >0.00</text>
<line x1="804.5" y1="874.72" x2="812.5" y2="874.72" stroke="#000" stroke-width="2" />
<line x1="1297.5" y1="874.72" x2="1306.5" y2="874.72" stroke="#000" stroke-width="2" />
<line x1="808.5" y1="836.38" x2="812.5" y2="836.38" stroke="#000" stroke-width="2" />
<line x1="1297.5" y1="836.38" x2="1302.5" y2="836.38" stroke="#000" stroke-width="2" />
<text transform="translate(806.2,884.22) scale(1,1.08)" font-size="32" text-anchor="end" fill="#000" font-family='"Liberation Serif", serif' font-weight="normal" >120</text>
<text transform="translate(1315.5,884.22) scale(1,1.05)" font-size="31.3" text-anchor="start" fill="#000" font-family='"Liberation Serif", serif' font-weight="normal" >0.23</text>
<line x1="804.5" y1="798.04" x2="812.5" y2="798.04" stroke="#000" stroke-width="2" />
<line x1="1297.5" y1="798.04" x2="1306.5" y2="798.04" stroke="#000" stroke-width="2" />
<line x1="808.5" y1="759.7" x2="812.5" y2="759.7" stroke="#000" stroke-width="2" />
<line x1="1297.5" y1="759.7" x2="1302.5" y2="759.7" stroke="#000" stroke-width="2" />
<text transform="translate(806.2,807.54) scale(1,1.08)" font-size="32" text-anchor="end" fill="#000" font-family='"Liberation Serif", serif' font-weight="normal" >240</text>
<text transform="translate(1315.5,807.54) scale(1,1.05)" font-size="31.3" text-anchor="start" fill="#000" font-family='"Liberation Serif", serif' font-weight="normal" >0.46</text>
<line x1="804.5" y1="721.36" x2="812.5" y2="721.36" stroke="#000" stroke-width="2" />
<line x1="1297.5" y1="721.36" x2="1306.5" y2="721.36" stroke="#000" stroke-width="2" />
<line x1="808.5" y1="683.02" x2="812.5" y2="683.02" stroke="#000" stroke-width="2" />
<line x1="1297.5" y1="683.02" x2="1302.5" y2="683.02" stroke="#000" stroke-width="2" />
<text transform="translate(806.2,730.86) scale(1,1.08)" font-size="32" text-anchor="end" fill="#000" font-family='"Liberation Serif", serif' font-weight="normal" >360</text>
<text transform="translate(1315.5,730.86) scale(1,1.05)" font-size="31.3" text-anchor="start" fill="#000" font-family='"Liberation Serif", serif' font-weight="normal" >0.69</text>
<line x1="804.5" y1="644.68" x2="812.5" y2="644.68" stroke="#000" stroke-width="2" />
<line x1="1297.5" y1="644.68" x2="1306.5" y2="644.68" stroke="#000" stroke-width="2" />
<line x1="808.5" y1="606.34" x2="812.5" y2="606.34" stroke="#000" stroke-width="2" />
<line x1="1297.5" y1="606.34" x2="1302.5" y2="606.34" stroke="#000" stroke-width="2" />
<text transform="translate(806.2,654.18) scale(1,1.08)" font-size="32" text-anchor="end" fill="#000" font-family='"Liberation Serif", serif' font-weight="normal" >480</text>
<text transform="translate(1315.5,654.18) scale(1,1.05)" font-size="31.3" text-anchor="start" fill="#000" font-family='"Liberation Serif", serif' font-weight="normal" >0.92</text>
<line x1="804.5" y1="568" x2="812.5" y2="568" stroke="#000" stroke-width="2" />
<line x1="1297.5" y1="568" x2="1306.5" y2="568" stroke="#000" stroke-width="2" />
<text transform="translate(806.2,577.5) scale(1,1.08)" font-size="32" text-anchor="end" fill="#000" font-family='"Liberation Serif", serif' font-weight="normal" >600</text>
<text transform="translate(1315.5,577.5) scale(1,1.05)" font-size="31.3" text-anchor="start" fill="#000" font-family='"Liberation Serif", serif' font-weight="normal" >1.15</text>
<line x1="862.1" y1="951.4" x2="862.1" y2="957.9" stroke="#000" stroke-width="1.6" />
<text transform="translate(860.1,982.9) scale(1,1.07)" font-size="31.5" text-anchor="middle" fill="#000" font-family='"Liberation Serif", serif' font-weight="normal" >1</text>
<line x1="917.22" y1="951.4" x2="917.22" y2="957.9" stroke="#000" stroke-width="1.6" />
<text transform="translate(915.22,982.9) scale(1,1.07)" font-size="31.5" text-anchor="middle" fill="#000" font-family='"Liberation Serif", serif' font-weight="normal" >2</text>
<line x1="972.33" y1="951.4" x2="972.33" y2="957.9" stroke="#000" stroke-width="1.6" />
<text transform="translate(970.33,982.9) scale(1,1.07)" font-size="31.5" text-anchor="middle" fill="#000" font-family='"Liberation Serif", serif' font-weight="normal" >3</text>
<line x1="1027.44" y1="951.4" x2="1027.44" y2="957.9" stroke="#000" stroke-width="1.6" />
<text transform="translate(1025.44,982.9) scale(1,1.07)" font-size="31.5" text-anchor="middle" fill="#000" font-family='"Liberation Serif", serif' font-weight="normal" >4</text>
<line x1="1082.56" y1="951.4" x2="1082.56" y2="957.9" stroke="#000" stroke-width="1.6" />
<text transform="translate(1080.56,982.9) scale(1,1.07)" font-size="31.5" text-anchor="middle" fill="#000" font-family='"Liberation Serif", serif' font-weight="normal" >5</text>
<line x1="1137.67" y1="951.4" x2="1137.67" y2="957.9" stroke="#000" stroke-width="1.6" />
<text transform="translate(1135.67,982.9) scale(1,1.07)" font-size="31.5" text-anchor="middle" fill="#000" font-family='"Liberation Serif", serif' font-weight="normal" >6</text>
<line x1="1192.78" y1="951.4" x2="1192.78" y2="957.9" stroke="#000" stroke-width="1.6" />
<text transform="translate(1190.78,982.9) scale(1,1.07)" font-size="31.5" text-anchor="middle" fill="#000" font-family='"Liberation Serif", serif' font-weight="normal" >7</text>
<line x1="1247.9" y1="951.4" x2="1247.9" y2="957.9" stroke="#000" stroke-width="1.6" />
<text transform="translate(1245.9,982.9) scale(1,1.07)" font-size="31.5" text-anchor="middle" fill="#000" font-family='"Liberation Serif", serif' font-weight="normal" >8</text>
<text x="944.9" y="1018.6" font-size="44.8" text-anchor="start" fill="#000" font-family='"Liberation Serif", serif' font-weight="normal" >Sampling site</text>
<text x="1060.2" y="605" font-size="44.5" text-anchor="start" fill="#000" font-family='"Liberation Serif", serif' font-weight="normal" >&lt;0.45 µm Zn</text>
<text transform="translate(1346.2,770.8) scale(1,1.02)" font-size="40.5" text-anchor="start" fill="#000" font-family='"Liberation Serif", serif' font-weight="normal" >CF</text>
<text transform="translate(874.5,740) scale(1,1.06)" font-size="43" text-anchor="start" fill="#d42029" font-family='"Liberation Serif", serif' font-weight="normal" >CF = 1</text>
<text x="729.5" y="540" font-size="30" text-anchor="start" fill="#000" font-family='"Liberation Sans", sans-serif' font-weight="bold" >D</text>
<text transform="translate(744,930.9) rotate(-90)" font-size="33.5" font-family='"Liberation Serif", serif'>Concentration (nmol L<tspan font-size="20.77" dy="-16.08">-1</tspan><tspan dy="16.08" dx="8.38">)</tspan></text>
<rect x="129.71" y="1270.5" width="34.95" height="210.8" fill="#c6c6c6" stroke="#000" stroke-width="2.1"/>
<rect x="180.37" y="1335.7" width="34.95" height="145.6" fill="#c6c6c6" stroke="#000" stroke-width="2.1"/>
<rect x="231.02" y="1317.6" width="34.95" height="163.7" fill="#c6c6c6" stroke="#000" stroke-width="2.1"/>
<rect x="281.67" y="1331.4" width="34.95" height="149.9" fill="#c6c6c6" stroke="#000" stroke-width="2.1"/>
<rect x="332.32" y="1309.7" width="34.95" height="171.6" fill="#c6c6c6" stroke="#000" stroke-width="2.1"/>
<rect x="382.98" y="1317.6" width="34.95" height="163.7" fill="#c6c6c6" stroke="#000" stroke-width="2.1"/>
<rect x="433.63" y="1342.6" width="34.95" height="138.7" fill="#c6c6c6" stroke="#000" stroke-width="2.1"/>
<rect x="484.28" y="1306.8" width="34.95" height="174.5" fill="#c6c6c6" stroke="#000" stroke-width="2.1"/>
<rect x="534.94" y="1342.6" width="34.95" height="138.7" fill="#c6c6c6" stroke="#000" stroke-width="2.1"/>
<line x1="147.19" y1="1215.1" x2="147.19" y2="1326.7" stroke="#000" stroke-width="1.9" />
<line x1="143.69" y1="1215.1" x2="150.69" y2="1215.1" stroke="#000" stroke-width="2.2" />
<line x1="143.69" y1="1326.7" x2="150.69" y2="1326.7" stroke="#000" stroke-width="2.2" />
<line x1="197.84" y1="1329.6" x2="197.84" y2="1340.4" stroke="#000" stroke-width="1.9" />
<line x1="194.34" y1="1329.6" x2="201.34" y2="1329.6" stroke="#000" stroke-width="2.2" />
<line x1="194.34" y1="1340.4" x2="201.34" y2="1340.4" stroke="#000" stroke-width="2.2" />
<line x1="248.49" y1="1286.8" x2="248.49" y2="1347.7" stroke="#000" stroke-width="1.9" />
<line x1="244.99" y1="1286.8" x2="251.99" y2="1286.8" stroke="#000" stroke-width="2.2" />
<line x1="244.99" y1="1347.7" x2="251.99" y2="1347.7" stroke="#000" stroke-width="2.2" />
<line x1="349.8" y1="1289.7" x2="349.8" y2="1330.7" stroke="#000" stroke-width="1.9" />
<line x1="346.3" y1="1289.7" x2="353.3" y2="1289.7" stroke="#000" stroke-width="2.2" />
<line x1="346.3" y1="1330.7" x2="353.3" y2="1330.7" stroke="#000" stroke-width="2.2" />
<line x1="451.11" y1="1337.6" x2="451.11" y2="1347.3" stroke="#000" stroke-width="1.9" />
<line x1="447.61" y1="1337.6" x2="454.61" y2="1337.6" stroke="#000" stroke-width="2.2" />
<line x1="447.61" y1="1347.3" x2="454.61" y2="1347.3" stroke="#000" stroke-width="2.2" />
<line x1="501.76" y1="1301.3" x2="501.76" y2="1312.2" stroke="#000" stroke-width="1.9" />
<line x1="498.26" y1="1301.3" x2="505.26" y2="1301.3" stroke="#000" stroke-width="2.2" />
<line x1="498.26" y1="1312.2" x2="505.26" y2="1312.2" stroke="#000" stroke-width="2.2" />
<line x1="552.41" y1="1327" x2="552.41" y2="1357.5" stroke="#000" stroke-width="1.9" />
<line x1="548.91" y1="1327" x2="555.91" y2="1327" stroke="#000" stroke-width="2.2" />
<line x1="548.91" y1="1357.5" x2="555.91" y2="1357.5" stroke="#000" stroke-width="2.2" />
<line x1="101.6" y1="1088.5" x2="598" y2="1088.5" stroke="#000" stroke-width="2" stroke-linecap="square"/>
<line x1="101.6" y1="1481.3" x2="598" y2="1481.3" stroke="#000" stroke-width="2" stroke-linecap="square"/>
<line x1="101.6" y1="1088.5" x2="101.6" y2="1481.3" stroke="#000" stroke-width="2" stroke-linecap="square"/>
<line x1="598" y1="1088.5" x2="598" y2="1481.3" stroke="#000" stroke-width="2" stroke-linecap="square"/>
<line x1="93.42" y1="1481.3" x2="101.6" y2="1481.3" stroke="#000" stroke-width="2" />
<line x1="598" y1="1481.3" x2="607.21" y2="1481.3" stroke="#000" stroke-width="2" />
<line x1="97.51" y1="1442.02" x2="101.6" y2="1442.02" stroke="#000" stroke-width="2" />
<line x1="598" y1="1442.02" x2="603.12" y2="1442.02" stroke="#000" stroke-width="2" />
<text transform="translate(92.3,1492) scale(1,1.08)" font-size="32.7" text-anchor="end" fill="#000" font-family='"Liberation Serif", serif' font-weight="normal" >0.0</text>
<text transform="translate(615,1491) scale(1,1.05)" font-size="32" text-anchor="start" fill="#000" font-family='"Liberation Serif", serif' font-weight="normal" >0.000</text>
<line x1="93.42" y1="1402.74" x2="101.6" y2="1402.74" stroke="#000" stroke-width="2" />
<line x1="598" y1="1402.74" x2="607.21" y2="1402.74" stroke="#000" stroke-width="2" />
<line x1="97.51" y1="1363.46" x2="101.6" y2="1363.46" stroke="#000" stroke-width="2" />
<line x1="598" y1="1363.46" x2="603.12" y2="1363.46" stroke="#000" stroke-width="2" />
<text transform="translate(92.3,1413.44) scale(1,1.08)" font-size="32.7" text-anchor="end" fill="#000" font-family='"Liberation Serif", serif' font-weight="normal" >0.7</text>
<text transform="translate(615,1412.44) scale(1,1.05)" font-size="32" text-anchor="start" fill="#000" font-family='"Liberation Serif", serif' font-weight="normal" >0.078</text>
<line x1="93.42" y1="1324.18" x2="101.6" y2="1324.18" stroke="#000" stroke-width="2" />
<line x1="598" y1="1324.18" x2="607.21" y2="1324.18" stroke="#000" stroke-width="2" />
<line x1="97.51" y1="1284.9" x2="101.6" y2="1284.9" stroke="#000" stroke-width="2" />
<line x1="598" y1="1284.9" x2="603.12" y2="1284.9" stroke="#000" stroke-width="2" />
<text transform="translate(92.3,1334.88) scale(1,1.08)" font-size="32.7" text-anchor="end" fill="#000" font-family='"Liberation Serif", serif' font-weight="normal" >1.4</text>
<text transform="translate(615,1333.88) scale(1,1.05)" font-size="32" text-anchor="start" fill="#000" font-family='"Liberation Serif", serif' font-weight="normal" >0.156</text>
<line x1="93.42" y1="1245.62" x2="101.6" y2="1245.62" stroke="#000" stroke-width="2" />
<line x1="598" y1="1245.62" x2="607.21" y2="1245.62" stroke="#000" stroke-width="2" />
<line x1="97.51" y1="1206.34" x2="101.6" y2="1206.34" stroke="#000" stroke-width="2" />
<line x1="598" y1="1206.34" x2="603.12" y2="1206.34" stroke="#000" stroke-width="2" />
<text transform="translate(92.3,1256.32) scale(1,1.08)" font-size="32.7" text-anchor="end" fill="#000" font-family='"Liberation Serif", serif' font-weight="normal" >2.1</text>
<text transform="translate(615,1255.32) scale(1,1.05)" font-size="32" text-anchor="start" fill="#000" font-family='"Liberation Serif", serif' font-weight="normal" >0.234</text>
<line x1="93.42" y1="1167.06" x2="101.6" y2="1167.06" stroke="#000" stroke-width="2" />
<line x1="598" y1="1167.06" x2="607.21" y2="1167.06" stroke="#000" stroke-width="2" />
<line x1="97.51" y1="1127.78" x2="101.6" y2="1127.78" stroke="#000" stroke-width="2" />
<line x1="598" y1="1127.78" x2="603.12" y2="1127.78" stroke="#000" stroke-width="2" />
<text transform="translate(92.3,1177.76) scale(1,1.08)" font-size="32.7" text-anchor="end" fill="#000" font-family='"Liberation Serif", serif' font-weight="normal" >2.8</text>
<text transform="translate(615,1176.76) scale(1,1.05)" font-size="32" text-anchor="start" fill="#000" font-family='"Liberation Serif", serif' font-weight="normal" >0.312</text>
<line x1="93.42" y1="1088.5" x2="101.6" y2="1088.5" stroke="#000" stroke-width="2" />
<line x1="598" y1="1088.5" x2="607.21" y2="1088.5" stroke="#000" stroke-width="2" />
<text transform="translate(92.3,1099.2) scale(1,1.08)" font-size="32.7" text-anchor="end" fill="#000" font-family='"Liberation Serif", serif' font-weight="normal" >3.5</text>
<text transform="translate(615,1098.2) scale(1,1.05)" font-size="32" text-anchor="start" fill="#000" font-family='"Liberation Serif", serif' font-weight="normal" >0.390</text>
<line x1="147.19" y1="1481.3" x2="147.19" y2="1487.95" stroke="#000" stroke-width="1.6" />
<text transform="translate(145.14,1514.3) scale(1,1.07)" font-size="32.2" text-anchor="middle" fill="#000" font-family='"Liberation Serif", serif' font-weight="normal" >1</text>
<line x1="197.84" y1="1481.3" x2="197.84" y2="1487.95" stroke="#000" stroke-width="1.6" />
<text transform="translate(195.79,1514.3) scale(1,1.07)" font-size="32.2" text-anchor="middle" fill="#000" font-family='"Liberation Serif", serif' font-weight="normal" >2</text>
<line x1="248.49" y1="1481.3" x2="248.49" y2="1487.95" stroke="#000" stroke-width="1.6" />
<text transform="translate(246.45,1514.3) scale(1,1.07)" font-size="32.2" text-anchor="middle" fill="#000" font-family='"Liberation Serif", serif' font-weight="normal" >3</text>
<line x1="299.15" y1="1481.3" x2="299.15" y2="1487.95" stroke="#000" stroke-width="1.6" />
<text transform="translate(297.1,1514.3) scale(1,1.07)" font-size="32.2" text-anchor="middle" fill="#000" font-family='"Liberation Serif", serif' font-weight="normal" >4</text>
<line x1="349.8" y1="1481.3" x2="349.8" y2="1487.95" stroke="#000" stroke-width="1.6" />
<text transform="translate(347.75,1514.3) scale(1,1.07)" font-size="32.2" text-anchor="middle" fill="#000" font-family='"Liberation Serif", serif' font-weight="normal" >5</text>
<line x1="400.45" y1="1481.3" x2="400.45" y2="1487.95" stroke="#000" stroke-width="1.6" />
<text transform="translate(398.41,1514.3) scale(1,1.07)" font-size="32.2" text-anchor="middle" fill="#000" font-family='"Liberation Serif", serif' font-weight="normal" >6</text>
<line x1="451.11" y1="1481.3" x2="451.11" y2="1487.95" stroke="#000" stroke-width="1.6" />
<text transform="translate(449.06,1514.3) scale(1,1.07)" font-size="32.2" text-anchor="middle" fill="#000" font-family='"Liberation Serif", serif' font-weight="normal" >7</text>
<line x1="501.76" y1="1481.3" x2="501.76" y2="1487.95" stroke="#000" stroke-width="1.6" />
<text transform="translate(499.71,1514.3) scale(1,1.07)" font-size="32.2" text-anchor="middle" fill="#000" font-family='"Liberation Serif", serif' font-weight="normal" >8</text>
<line x1="552.41" y1="1481.3" x2="552.41" y2="1487.95" stroke="#000" stroke-width="1.6" />
<text transform="translate(550.37,1514.3) scale(1,1.07)" font-size="32.2" text-anchor="middle" fill="#000" font-family='"Liberation Serif", serif' font-weight="normal" >9</text>
<text x="235.86" y="1550.6" font-size="45.83" text-anchor="start" fill="#000" font-family='"Liberation Serif", serif' font-weight="normal" >Sampling site</text>
<text x="347.17" y="1125" font-size="45.52" text-anchor="start" fill="#000" font-family='"Liberation Serif", serif' font-weight="normal" >&lt;0.45 µm Cd</text>
<text transform="translate(645,1299.3) scale(1,1.02)" font-size="41.43" text-anchor="start" fill="#000" font-family='"Liberation Serif", serif' font-weight="normal" >CF</text>
<text x="19.5" y="1057" font-size="30.69" text-anchor="start" fill="#000" font-family='"Liberation Sans", sans-serif' font-weight="bold" >E</text>
<text transform="translate(38.7,1459.3) rotate(-90)" font-size="34.27" font-family='"Liberation Serif", serif'>Concentration (nmol L<tspan font-size="21.25" dy="-16.45">-1</tspan><tspan dy="16.45" dx="8.57">)</tspan></text>
<rect x="829.34" y="1339.3" width="38.97" height="142.2" fill="#c6c6c6" stroke="#000" stroke-width="2.1"/>
<rect x="885.82" y="1382.4" width="38.97" height="99.1" fill="#c6c6c6" stroke="#000" stroke-width="2.1"/>
<rect x="942.3" y="1325.2" width="38.97" height="156.3" fill="#c6c6c6" stroke="#000" stroke-width="2.1"/>
<rect x="998.78" y="1375.2" width="38.97" height="106.3" fill="#c6c6c6" stroke="#000" stroke-width="2.1"/>
<rect x="1055.25" y="1346.6" width="38.97" height="134.9" fill="#c6c6c6" stroke="#000" stroke-width="2.1"/>
<rect x="1111.73" y="1303.8" width="38.97" height="177.7" fill="#c6c6c6" stroke="#000" stroke-width="2.1"/>
<rect x="1168.21" y="1371.6" width="38.97" height="109.9" fill="#c6c6c6" stroke="#000" stroke-width="2.1"/>
<rect x="1224.69" y="1332.1" width="38.97" height="149.4" fill="#c6c6c6" stroke="#000" stroke-width="2.1"/>
<line x1="905.31" y1="1376.7" x2="905.31" y2="1386.4" stroke="#000" stroke-width="1.9" />
<line x1="901.81" y1="1376.7" x2="908.81" y2="1376.7" stroke="#000" stroke-width="2.2" />
<line x1="901.81" y1="1386.4" x2="908.81" y2="1386.4" stroke="#000" stroke-width="2.2" />
<line x1="1074.74" y1="1335.7" x2="1074.74" y2="1356.4" stroke="#000" stroke-width="1.9" />
<line x1="1071.24" y1="1335.7" x2="1078.24" y2="1335.7" stroke="#000" stroke-width="2.2" />
<line x1="1071.24" y1="1356.4" x2="1078.24" y2="1356.4" stroke="#000" stroke-width="2.2" />
<line x1="1131.22" y1="1297.7" x2="1131.22" y2="1308.2" stroke="#000" stroke-width="1.9" />
<line x1="1127.72" y1="1297.7" x2="1134.72" y2="1297.7" stroke="#000" stroke-width="2.2" />
<line x1="1127.72" y1="1308.2" x2="1134.72" y2="1308.2" stroke="#000" stroke-width="2.2" />
<line x1="1187.69" y1="1365.8" x2="1187.69" y2="1376.7" stroke="#000" stroke-width="1.9" />
<line x1="1184.19" y1="1365.8" x2="1191.19" y2="1365.8" stroke="#000" stroke-width="2.2" />
<line x1="1184.19" y1="1376.7" x2="1191.19" y2="1376.7" stroke="#000" stroke-width="2.2" />
<line x1="1244.17" y1="1311.1" x2="1244.17" y2="1352.4" stroke="#000" stroke-width="1.9" />
<line x1="1240.67" y1="1311.1" x2="1247.67" y2="1311.1" stroke="#000" stroke-width="2.2" />
<line x1="1240.67" y1="1352.4" x2="1247.67" y2="1352.4" stroke="#000" stroke-width="2.2" />
<line x1="798" y1="1088.5" x2="1295" y2="1088.5" stroke="#000" stroke-width="2" stroke-linecap="square"/>
<line x1="798" y1="1481.5" x2="1295" y2="1481.5" stroke="#000" stroke-width="2" stroke-linecap="square"/>
<line x1="798" y1="1088.5" x2="798" y2="1481.5" stroke="#000" stroke-width="2" stroke-linecap="square"/>
<line x1="1295" y1="1088.5" x2="1295" y2="1481.5" stroke="#000" stroke-width="2" stroke-linecap="square"/>
<line x1="789.82" y1="1481.5" x2="798" y2="1481.5" stroke="#000" stroke-width="2" />
<line x1="1295" y1="1481.5" x2="1304.21" y2="1481.5" stroke="#000" stroke-width="2" />
<line x1="793.91" y1="1442.2" x2="798" y2="1442.2" stroke="#000" stroke-width="2" />
<line x1="1295" y1="1442.2" x2="1300.12" y2="1442.2" stroke="#000" stroke-width="2" />
<text transform="translate(791.5,1492.2) scale(1,1.08)" font-size="32.7" text-anchor="end" fill="#000" font-family='"Liberation Serif", serif' font-weight="normal" >0.0</text>
<text transform="translate(1311.8,1491.2) scale(1,1.05)" font-size="32" text-anchor="start" fill="#000" font-family='"Liberation Serif", serif' font-weight="normal" >0.000</text>
<line x1="789.82" y1="1402.9" x2="798" y2="1402.9" stroke="#000" stroke-width="2" />
<line x1="1295" y1="1402.9" x2="1304.21" y2="1402.9" stroke="#000" stroke-width="2" />
<line x1="793.91" y1="1363.6" x2="798" y2="1363.6" stroke="#000" stroke-width="2" />
<line x1="1295" y1="1363.6" x2="1300.12" y2="1363.6" stroke="#000" stroke-width="2" />
<text transform="translate(791.5,1413.6) scale(1,1.08)" font-size="32.7" text-anchor="end" fill="#000" font-family='"Liberation Serif", serif' font-weight="normal" >0.7</text>
<text transform="translate(1311.8,1412.6) scale(1,1.05)" font-size="32" text-anchor="start" fill="#000" font-family='"Liberation Serif", serif' font-weight="normal" >0.078</text>
<line x1="789.82" y1="1324.3" x2="798" y2="1324.3" stroke="#000" stroke-width="2" />
<line x1="1295" y1="1324.3" x2="1304.21" y2="1324.3" stroke="#000" stroke-width="2" />
<line x1="793.91" y1="1285" x2="798" y2="1285" stroke="#000" stroke-width="2" />
<line x1="1295" y1="1285" x2="1300.12" y2="1285" stroke="#000" stroke-width="2" />
<text transform="translate(791.5,1335) scale(1,1.08)" font-size="32.7" text-anchor="end" fill="#000" font-family='"Liberation Serif", serif' font-weight="normal" >1.4</text>
<text transform="translate(1311.8,1334) scale(1,1.05)" font-size="32" text-anchor="start" fill="#000" font-family='"Liberation Serif", serif' font-weight="normal" >0.156</text>
<line x1="789.82" y1="1245.7" x2="798" y2="1245.7" stroke="#000" stroke-width="2" />
<line x1="1295" y1="1245.7" x2="1304.21" y2="1245.7" stroke="#000" stroke-width="2" />
<line x1="793.91" y1="1206.4" x2="798" y2="1206.4" stroke="#000" stroke-width="2" />
<line x1="1295" y1="1206.4" x2="1300.12" y2="1206.4" stroke="#000" stroke-width="2" />
<text transform="translate(791.5,1256.4) scale(1,1.08)" font-size="32.7" text-anchor="end" fill="#000" font-family='"Liberation Serif", serif' font-weight="normal" >2.1</text>
<text transform="translate(1311.8,1255.4) scale(1,1.05)" font-size="32" text-anchor="start" fill="#000" font-family='"Liberation Serif", serif' font-weight="normal" >0.234</text>
<line x1="789.82" y1="1167.1" x2="798" y2="1167.1" stroke="#000" stroke-width="2" />
<line x1="1295" y1="1167.1" x2="1304.21" y2="1167.1" stroke="#000" stroke-width="2" />
<line x1="793.91" y1="1127.8" x2="798" y2="1127.8" stroke="#000" stroke-width="2" />
<line x1="1295" y1="1127.8" x2="1300.12" y2="1127.8" stroke="#000" stroke-width="2" />
<text transform="translate(791.5,1177.8) scale(1,1.08)" font-size="32.7" text-anchor="end" fill="#000" font-family='"Liberation Serif", serif' font-weight="normal" >2.8</text>
<text transform="translate(1311.8,1176.8) scale(1,1.05)" font-size="32" text-anchor="start" fill="#000" font-family='"Liberation Serif", serif' font-weight="normal" >0.312</text>
<line x1="789.82" y1="1088.5" x2="798" y2="1088.5" stroke="#000" stroke-width="2" />
<line x1="1295" y1="1088.5" x2="1304.21" y2="1088.5" stroke="#000" stroke-width="2" />
<text transform="translate(791.5,1099.2) scale(1,1.08)" font-size="32.7" text-anchor="end" fill="#000" font-family='"Liberation Serif", serif' font-weight="normal" >3.5</text>
<text transform="translate(1311.8,1098.2) scale(1,1.05)" font-size="32" text-anchor="start" fill="#000" font-family='"Liberation Serif", serif' font-weight="normal" >0.390</text>
<line x1="848.83" y1="1481.5" x2="848.83" y2="1488.15" stroke="#000" stroke-width="1.6" />
<text transform="translate(846.78,1514.5) scale(1,1.07)" font-size="32.2" text-anchor="middle" fill="#000" font-family='"Liberation Serif", serif' font-weight="normal" >1</text>
<line x1="905.31" y1="1481.5" x2="905.31" y2="1488.15" stroke="#000" stroke-width="1.6" />
<text transform="translate(903.26,1514.5) scale(1,1.07)" font-size="32.2" text-anchor="middle" fill="#000" font-family='"Liberation Serif", serif' font-weight="normal" >2</text>
<line x1="961.78" y1="1481.5" x2="961.78" y2="1488.15" stroke="#000" stroke-width="1.6" />
<text transform="translate(959.74,1514.5) scale(1,1.07)" font-size="32.2" text-anchor="middle" fill="#000" font-family='"Liberation Serif", serif' font-weight="normal" >3</text>
<line x1="1018.26" y1="1481.5" x2="1018.26" y2="1488.15" stroke="#000" stroke-width="1.6" />
<text transform="translate(1016.22,1514.5) scale(1,1.07)" font-size="32.2" text-anchor="middle" fill="#000" font-family='"Liberation Serif", serif' font-weight="normal" >4</text>
<line x1="1074.74" y1="1481.5" x2="1074.74" y2="1488.15" stroke="#000" stroke-width="1.6" />
<text transform="translate(1072.69,1514.5) scale(1,1.07)" font-size="32.2" text-anchor="middle" fill="#000" font-family='"Liberation Serif", serif' font-weight="normal" >5</text>
<line x1="1131.22" y1="1481.5" x2="1131.22" y2="1488.15" stroke="#000" stroke-width="1.6" />
<text transform="translate(1129.17,1514.5) scale(1,1.07)" font-size="32.2" text-anchor="middle" fill="#000" font-family='"Liberation Serif", serif' font-weight="normal" >6</text>
<line x1="1187.69" y1="1481.5" x2="1187.69" y2="1488.15" stroke="#000" stroke-width="1.6" />
<text transform="translate(1185.65,1514.5) scale(1,1.07)" font-size="32.2" text-anchor="middle" fill="#000" font-family='"Liberation Serif", serif' font-weight="normal" >7</text>
<line x1="1244.17" y1="1481.5" x2="1244.17" y2="1488.15" stroke="#000" stroke-width="1.6" />
<text transform="translate(1242.12,1514.5) scale(1,1.07)" font-size="32.2" text-anchor="middle" fill="#000" font-family='"Liberation Serif", serif' font-weight="normal" >8</text>
<text x="933.36" y="1550.6" font-size="45.83" text-anchor="start" fill="#000" font-family='"Liberation Serif", serif' font-weight="normal" >Sampling site</text>
<text x="1044.17" y="1125" font-size="45.52" text-anchor="start" fill="#000" font-family='"Liberation Serif", serif' font-weight="normal" >&lt;0.45 µm Cd</text>
<text transform="translate(1341.7,1299.3) scale(1,1.02)" font-size="41.43" text-anchor="start" fill="#000" font-family='"Liberation Serif", serif' font-weight="normal" >CF</text>
<text x="717.1" y="1057" font-size="30.69" text-anchor="start" fill="#000" font-family='"Liberation Sans", sans-serif' font-weight="bold" >F</text>
<text transform="translate(735.7,1459.3) rotate(-90)" font-size="34.27" font-family='"Liberation Serif", serif'>Concentration (nmol L<tspan font-size="21.25" dy="-16.45">-1</tspan><tspan dy="16.45" dx="8.57">)</tspan></text>
<rect x="143.24" y="1725.6" width="34.12" height="277.4" fill="#c6c6c6" stroke="#000" stroke-width="2.1"/>
<rect x="192.69" y="1743.7" width="34.12" height="259.3" fill="#c6c6c6" stroke="#000" stroke-width="2.1"/>
<rect x="242.14" y="1790.9" width="34.12" height="212.1" fill="#c6c6c6" stroke="#000" stroke-width="2.1"/>
<rect x="291.59" y="1699.3" width="34.12" height="303.7" fill="#c6c6c6" stroke="#000" stroke-width="2.1"/>
<rect x="341.04" y="1763.9" width="34.12" height="239.1" fill="#c6c6c6" stroke="#000" stroke-width="2.1"/>
<rect x="390.49" y="1797.3" width="34.12" height="205.7" fill="#c6c6c6" stroke="#000" stroke-width="2.1"/>
<rect x="439.94" y="1813.3" width="34.12" height="189.7" fill="#c6c6c6" stroke="#000" stroke-width="2.1"/>
<rect x="489.39" y="1802.3" width="34.12" height="200.7" fill="#c6c6c6" stroke="#000" stroke-width="2.1"/>
<rect x="538.84" y="1822.2" width="34.12" height="180.8" fill="#c6c6c6" stroke="#000" stroke-width="2.1"/>
<line x1="160.3" y1="1699.3" x2="160.3" y2="1751.9" stroke="#000" stroke-width="1.9" />
<line x1="156.8" y1="1699.3" x2="163.8" y2="1699.3" stroke="#000" stroke-width="2.2" />
<line x1="156.8" y1="1751.9" x2="163.8" y2="1751.9" stroke="#000" stroke-width="2.2" />
<line x1="259.2" y1="1723.8" x2="259.2" y2="1857.3" stroke="#000" stroke-width="1.9" />
<line x1="255.7" y1="1723.8" x2="262.7" y2="1723.8" stroke="#000" stroke-width="2.2" />
<line x1="255.7" y1="1857.3" x2="262.7" y2="1857.3" stroke="#000" stroke-width="2.2" />
<line x1="308.65" y1="1659.5" x2="308.65" y2="1738.4" stroke="#000" stroke-width="1.9" />
<line x1="305.15" y1="1659.5" x2="312.15" y2="1659.5" stroke="#000" stroke-width="2.2" />
<line x1="305.15" y1="1738.4" x2="312.15" y2="1738.4" stroke="#000" stroke-width="2.2" />
<line x1="358.1" y1="1722.4" x2="358.1" y2="1805.1" stroke="#000" stroke-width="1.9" />
<line x1="354.6" y1="1722.4" x2="361.6" y2="1722.4" stroke="#000" stroke-width="2.2" />
<line x1="354.6" y1="1805.1" x2="361.6" y2="1805.1" stroke="#000" stroke-width="2.2" />
<line x1="457" y1="1799.8" x2="457" y2="1826.4" stroke="#000" stroke-width="1.9" />
<line x1="453.5" y1="1799.8" x2="460.5" y2="1799.8" stroke="#000" stroke-width="2.2" />
<line x1="453.5" y1="1826.4" x2="460.5" y2="1826.4" stroke="#000" stroke-width="2.2" />
<line x1="506.45" y1="1776" x2="506.45" y2="1827.1" stroke="#000" stroke-width="1.9" />
<line x1="502.95" y1="1776" x2="509.95" y2="1776" stroke="#000" stroke-width="2.2" />
<line x1="502.95" y1="1827.1" x2="509.95" y2="1827.1" stroke="#000" stroke-width="2.2" />
<line x1="555.9" y1="1793.4" x2="555.9" y2="1850.9" stroke="#000" stroke-width="1.9" />
<line x1="552.4" y1="1793.4" x2="559.4" y2="1793.4" stroke="#000" stroke-width="2.2" />
<line x1="552.4" y1="1850.9" x2="559.4" y2="1850.9" stroke="#000" stroke-width="2.2" />
<line x1="115.8" y1="1619.4" x2="600.4" y2="1619.4" stroke="#000" stroke-width="2" stroke-linecap="square"/>
<line x1="115.8" y1="2003" x2="600.4" y2="2003" stroke="#000" stroke-width="2" stroke-linecap="square"/>
<line x1="115.8" y1="1619.4" x2="115.8" y2="2003" stroke="#000" stroke-width="2" stroke-linecap="square"/>
<line x1="600.4" y1="1619.4" x2="600.4" y2="2003" stroke="#000" stroke-width="2" stroke-linecap="square"/>
<line x1="107.8" y1="2003" x2="115.8" y2="2003" stroke="#000" stroke-width="2" />
<line x1="600.4" y1="2003" x2="609.4" y2="2003" stroke="#000" stroke-width="2" />
<line x1="111.8" y1="1964.64" x2="115.8" y2="1964.64" stroke="#000" stroke-width="2" />
<line x1="600.4" y1="1964.64" x2="605.4" y2="1964.64" stroke="#000" stroke-width="2" />
<text transform="translate(111.3,2012.5) scale(1,1.08)" font-size="32" text-anchor="end" fill="#000" font-family='"Liberation Serif", serif' font-weight="normal" >0.00</text>
<text transform="translate(618.5,2012.5) scale(1,1.05)" font-size="31.3" text-anchor="start" fill="#000" font-family='"Liberation Serif", serif' font-weight="normal" >0.000</text>
<line x1="107.8" y1="1926.28" x2="115.8" y2="1926.28" stroke="#000" stroke-width="2" />
<line x1="600.4" y1="1926.28" x2="609.4" y2="1926.28" stroke="#000" stroke-width="2" />
<line x1="111.8" y1="1887.92" x2="115.8" y2="1887.92" stroke="#000" stroke-width="2" />
<line x1="600.4" y1="1887.92" x2="605.4" y2="1887.92" stroke="#000" stroke-width="2" />
<text transform="translate(111.3,1935.78) scale(1,1.08)" font-size="32" text-anchor="end" fill="#000" font-family='"Liberation Serif", serif' font-weight="normal" >0.36</text>
<text transform="translate(618.5,1935.78) scale(1,1.05)" font-size="31.3" text-anchor="start" fill="#000" font-family='"Liberation Serif", serif' font-weight="normal" >0.074</text>
<line x1="107.8" y1="1849.56" x2="115.8" y2="1849.56" stroke="#000" stroke-width="2" />
<line x1="600.4" y1="1849.56" x2="609.4" y2="1849.56" stroke="#000" stroke-width="2" />
<line x1="111.8" y1="1811.2" x2="115.8" y2="1811.2" stroke="#000" stroke-width="2" />
<line x1="600.4" y1="1811.2" x2="605.4" y2="1811.2" stroke="#000" stroke-width="2" />
<text transform="translate(111.3,1859.06) scale(1,1.08)" font-size="32" text-anchor="end" fill="#000" font-family='"Liberation Serif", serif' font-weight="normal" >0.72</text>
<text transform="translate(618.5,1859.06) scale(1,1.05)" font-size="31.3" text-anchor="start" fill="#000" font-family='"Liberation Serif", serif' font-weight="normal" >0.148</text>
<line x1="107.8" y1="1772.84" x2="115.8" y2="1772.84" stroke="#000" stroke-width="2" />
<line x1="600.4" y1="1772.84" x2="609.4" y2="1772.84" stroke="#000" stroke-width="2" />
<line x1="111.8" y1="1734.48" x2="115.8" y2="1734.48" stroke="#000" stroke-width="2" />
<line x1="600.4" y1="1734.48" x2="605.4" y2="1734.48" stroke="#000" stroke-width="2" />
<text transform="translate(111.3,1782.34) scale(1,1.08)" font-size="32" text-anchor="end" fill="#000" font-family='"Liberation Serif", serif' font-weight="normal" >1.08</text>
<text transform="translate(618.5,1782.34) scale(1,1.05)" font-size="31.3" text-anchor="start" fill="#000" font-family='"Liberation Serif", serif' font-weight="normal" >0.222</text>
<line x1="107.8" y1="1696.12" x2="115.8" y2="1696.12" stroke="#000" stroke-width="2" />
<line x1="600.4" y1="1696.12" x2="609.4" y2="1696.12" stroke="#000" stroke-width="2" />
<line x1="111.8" y1="1657.76" x2="115.8" y2="1657.76" stroke="#000" stroke-width="2" />
<line x1="600.4" y1="1657.76" x2="605.4" y2="1657.76" stroke="#000" stroke-width="2" />
<text transform="translate(111.3,1705.62) scale(1,1.08)" font-size="32" text-anchor="end" fill="#000" font-family='"Liberation Serif", serif' font-weight="normal" >1.44</text>
<text transform="translate(618.5,1705.62) scale(1,1.05)" font-size="31.3" text-anchor="start" fill="#000" font-family='"Liberation Serif", serif' font-weight="normal" >0.296</text>
<line x1="107.8" y1="1619.4" x2="115.8" y2="1619.4" stroke="#000" stroke-width="2" />
<line x1="600.4" y1="1619.4" x2="609.4" y2="1619.4" stroke="#000" stroke-width="2" />
<text transform="translate(111.3,1628.9) scale(1,1.08)" font-size="32" text-anchor="end" fill="#000" font-family='"Liberation Serif", serif' font-weight="normal" >1.80</text>
<text transform="translate(618.5,1628.9) scale(1,1.05)" font-size="31.3" text-anchor="start" fill="#000" font-family='"Liberation Serif", serif' font-weight="normal" >0.370</text>
<line x1="160.3" y1="2003" x2="160.3" y2="2009.5" stroke="#000" stroke-width="1.6" />
<text transform="translate(158.3,2035) scale(1,1.07)" font-size="31.5" text-anchor="middle" fill="#000" font-family='"Liberation Serif", serif' font-weight="normal" >1</text>
<line x1="209.75" y1="2003" x2="209.75" y2="2009.5" stroke="#000" stroke-width="1.6" />
<text transform="translate(207.75,2035) scale(1,1.07)" font-size="31.5" text-anchor="middle" fill="#000" font-family='"Liberation Serif", serif' font-weight="normal" >2</text>
<line x1="259.2" y1="2003" x2="259.2" y2="2009.5" stroke="#000" stroke-width="1.6" />
<text transform="translate(257.2,2035) scale(1,1.07)" font-size="31.5" text-anchor="middle" fill="#000" font-family='"Liberation Serif", serif' font-weight="normal" >3</text>
<line x1="308.65" y1="2003" x2="308.65" y2="2009.5" stroke="#000" stroke-width="1.6" />
<text transform="translate(306.65,2035) scale(1,1.07)" font-size="31.5" text-anchor="middle" fill="#000" font-family='"Liberation Serif", serif' font-weight="normal" >4</text>
<line x1="358.1" y1="2003" x2="358.1" y2="2009.5" stroke="#000" stroke-width="1.6" />
<text transform="translate(356.1,2035) scale(1,1.07)" font-size="31.5" text-anchor="middle" fill="#000" font-family='"Liberation Serif", serif' font-weight="normal" >5</text>
<line x1="407.55" y1="2003" x2="407.55" y2="2009.5" stroke="#000" stroke-width="1.6" />
<text transform="translate(405.55,2035) scale(1,1.07)" font-size="31.5" text-anchor="middle" fill="#000" font-family='"Liberation Serif", serif' font-weight="normal" >6</text>
<line x1="457" y1="2003" x2="457" y2="2009.5" stroke="#000" stroke-width="1.6" />
<text transform="translate(455,2035) scale(1,1.07)" font-size="31.5" text-anchor="middle" fill="#000" font-family='"Liberation Serif", serif' font-weight="normal" >7</text>
<line x1="506.45" y1="2003" x2="506.45" y2="2009.5" stroke="#000" stroke-width="1.6" />
<text transform="translate(504.45,2035) scale(1,1.07)" font-size="31.5" text-anchor="middle" fill="#000" font-family='"Liberation Serif", serif' font-weight="normal" >8</text>
<line x1="555.9" y1="2003" x2="555.9" y2="2009.5" stroke="#000" stroke-width="1.6" />
<text transform="translate(553.9,2035) scale(1,1.07)" font-size="31.5" text-anchor="middle" fill="#000" font-family='"Liberation Serif", serif' font-weight="normal" >9</text>
<text x="247.9" y="2069.6" font-size="44.8" text-anchor="start" fill="#000" font-family='"Liberation Serif", serif' font-weight="normal" >Sampling site</text>
<text x="365.2" y="1657" font-size="44.5" text-anchor="start" fill="#000" font-family='"Liberation Serif", serif' font-weight="normal" >&lt;0.45 µm Pb</text>
<text transform="translate(648.2,1824.8) scale(1,1.02)" font-size="40.5" text-anchor="start" fill="#000" font-family='"Liberation Serif", serif' font-weight="normal" >CF</text>
<text x="20.1" y="1590.6" font-size="30" text-anchor="start" fill="#000" font-family='"Liberation Sans", sans-serif' font-weight="bold" >G</text>
<text transform="translate(38.7,1982.7) rotate(-90)" font-size="33.5" font-family='"Liberation Serif", serif'>Concentration (nmol L<tspan font-size="20.77" dy="-16.08">-1</tspan><tspan dy="16.08" dx="8.38">)</tspan></text>
<rect x="843.09" y="1732.6" width="38.03" height="269.9" fill="#c6c6c6" stroke="#000" stroke-width="2.1"/>
<rect x="898.2" y="1813.8" width="38.03" height="188.7" fill="#c6c6c6" stroke="#000" stroke-width="2.1"/>
<rect x="953.32" y="1705.9" width="38.03" height="296.6" fill="#c6c6c6" stroke="#000" stroke-width="2.1"/>
<rect x="1008.43" y="1800.4" width="38.03" height="202.1" fill="#c6c6c6" stroke="#000" stroke-width="2.1"/>
<rect x="1063.54" y="1746.4" width="38.03" height="256.1" fill="#c6c6c6" stroke="#000" stroke-width="2.1"/>
<rect x="1118.66" y="1665.3" width="38.03" height="337.2" fill="#c6c6c6" stroke="#000" stroke-width="2.1"/>
<rect x="1173.77" y="1793.5" width="38.03" height="209" fill="#c6c6c6" stroke="#000" stroke-width="2.1"/>
<rect x="1228.88" y="1719.2" width="38.03" height="283.3" fill="#c6c6c6" stroke="#000" stroke-width="2.1"/>
<line x1="917.22" y1="1793.9" x2="917.22" y2="1832.7" stroke="#000" stroke-width="1.9" />
<line x1="913.72" y1="1793.9" x2="920.72" y2="1793.9" stroke="#000" stroke-width="2.2" />
<line x1="913.72" y1="1832.7" x2="920.72" y2="1832.7" stroke="#000" stroke-width="2.2" />
<line x1="1082.56" y1="1726.6" x2="1082.56" y2="1765" stroke="#000" stroke-width="1.9" />
<line x1="1079.06" y1="1726.6" x2="1086.06" y2="1726.6" stroke="#000" stroke-width="2.2" />
<line x1="1079.06" y1="1765" x2="1086.06" y2="1765" stroke="#000" stroke-width="2.2" />
<line x1="1137.67" y1="1651.6" x2="1137.67" y2="1674.4" stroke="#000" stroke-width="1.9" />
<line x1="1134.17" y1="1651.6" x2="1141.17" y2="1651.6" stroke="#000" stroke-width="2.2" />
<line x1="1134.17" y1="1674.4" x2="1141.17" y2="1674.4" stroke="#000" stroke-width="2.2" />
<line x1="1192.78" y1="1784.1" x2="1192.78" y2="1802.6" stroke="#000" stroke-width="1.9" />
<line x1="1189.28" y1="1784.1" x2="1196.28" y2="1784.1" stroke="#000" stroke-width="2.2" />
<line x1="1189.28" y1="1802.6" x2="1196.28" y2="1802.6" stroke="#000" stroke-width="2.2" />
<line x1="1247.9" y1="1680.6" x2="1247.9" y2="1756.6" stroke="#000" stroke-width="1.9" />
<line x1="1244.4" y1="1680.6" x2="1251.4" y2="1680.6" stroke="#000" stroke-width="2.2" />
<line x1="1244.4" y1="1756.6" x2="1251.4" y2="1756.6" stroke="#000" stroke-width="2.2" />
<line x1="812.5" y1="1619.4" x2="1297.5" y2="1619.4" stroke="#000" stroke-width="2" stroke-linecap="square"/>
<line x1="812.5" y1="2002.5" x2="1297.5" y2="2002.5" stroke="#000" stroke-width="2" stroke-linecap="square"/>
<line x1="812.5" y1="1619.4" x2="812.5" y2="2002.5" stroke="#000" stroke-width="2" stroke-linecap="square"/>
<line x1="1297.5" y1="1619.4" x2="1297.5" y2="2002.5" stroke="#000" stroke-width="2" stroke-linecap="square"/>
<line x1="804.5" y1="2002.5" x2="812.5" y2="2002.5" stroke="#000" stroke-width="2" />
<line x1="1297.5" y1="2002.5" x2="1306.5" y2="2002.5" stroke="#000" stroke-width="2" />
<line x1="808.5" y1="1964.19" x2="812.5" y2="1964.19" stroke="#000" stroke-width="2" />
<line x1="1297.5" y1="1964.19" x2="1302.5" y2="1964.19" stroke="#000" stroke-width="2" />
<text transform="translate(810,2012) scale(1,1.08)" font-size="32" text-anchor="end" fill="#000" font-family='"Liberation Serif", serif' font-weight="normal" >0.00</text>
<text transform="translate(1315.5,2012) scale(1,1.05)" font-size="31.3" text-anchor="start" fill="#000" font-family='"Liberation Serif", serif' font-weight="normal" >0.000</text>
<line x1="804.5" y1="1925.88" x2="812.5" y2="1925.88" stroke="#000" stroke-width="2" />
<line x1="1297.5" y1="1925.88" x2="1306.5" y2="1925.88" stroke="#000" stroke-width="2" />
<line x1="808.5" y1="1887.57" x2="812.5" y2="1887.57" stroke="#000" stroke-width="2" />
<line x1="1297.5" y1="1887.57" x2="1302.5" y2="1887.57" stroke="#000" stroke-width="2" />
<text transform="translate(810,1935.38) scale(1,1.08)" font-size="32" text-anchor="end" fill="#000" font-family='"Liberation Serif", serif' font-weight="normal" >0.36</text>
<text transform="translate(1315.5,1935.38) scale(1,1.05)" font-size="31.3" text-anchor="start" fill="#000" font-family='"Liberation Serif", serif' font-weight="normal" >0.054</text>
<line x1="804.5" y1="1849.26" x2="812.5" y2="1849.26" stroke="#000" stroke-width="2" />
<line x1="1297.5" y1="1849.26" x2="1306.5" y2="1849.26" stroke="#000" stroke-width="2" />
<line x1="808.5" y1="1810.95" x2="812.5" y2="1810.95" stroke="#000" stroke-width="2" />
<line x1="1297.5" y1="1810.95" x2="1302.5" y2="1810.95" stroke="#000" stroke-width="2" />
<text transform="translate(810,1858.76) scale(1,1.08)" font-size="32" text-anchor="end" fill="#000" font-family='"Liberation Serif", serif' font-weight="normal" >0.72</text>
<text transform="translate(1315.5,1858.76) scale(1,1.05)" font-size="31.3" text-anchor="start" fill="#000" font-family='"Liberation Serif", serif' font-weight="normal" >0.108</text>
<line x1="804.5" y1="1772.64" x2="812.5" y2="1772.64" stroke="#000" stroke-width="2" />
<line x1="1297.5" y1="1772.64" x2="1306.5" y2="1772.64" stroke="#000" stroke-width="2" />
<line x1="808.5" y1="1734.33" x2="812.5" y2="1734.33" stroke="#000" stroke-width="2" />
<line x1="1297.5" y1="1734.33" x2="1302.5" y2="1734.33" stroke="#000" stroke-width="2" />
<text transform="translate(810,1782.14) scale(1,1.08)" font-size="32" text-anchor="end" fill="#000" font-family='"Liberation Serif", serif' font-weight="normal" >1.08</text>
<text transform="translate(1315.5,1782.14) scale(1,1.05)" font-size="31.3" text-anchor="start" fill="#000" font-family='"Liberation Serif", serif' font-weight="normal" >0.162</text>
<line x1="804.5" y1="1696.02" x2="812.5" y2="1696.02" stroke="#000" stroke-width="2" />
<line x1="1297.5" y1="1696.02" x2="1306.5" y2="1696.02" stroke="#000" stroke-width="2" />
<line x1="808.5" y1="1657.71" x2="812.5" y2="1657.71" stroke="#000" stroke-width="2" />
<line x1="1297.5" y1="1657.71" x2="1302.5" y2="1657.71" stroke="#000" stroke-width="2" />
<text transform="translate(810,1705.52) scale(1,1.08)" font-size="32" text-anchor="end" fill="#000" font-family='"Liberation Serif", serif' font-weight="normal" >1.44</text>
<text transform="translate(1315.5,1705.52) scale(1,1.05)" font-size="31.3" text-anchor="start" fill="#000" font-family='"Liberation Serif", serif' font-weight="normal" >0.216</text>
<line x1="804.5" y1="1619.4" x2="812.5" y2="1619.4" stroke="#000" stroke-width="2" />
<line x1="1297.5" y1="1619.4" x2="1306.5" y2="1619.4" stroke="#000" stroke-width="2" />
<text transform="translate(810,1628.9) scale(1,1.08)" font-size="32" text-anchor="end" fill="#000" font-family='"Liberation Serif", serif' font-weight="normal" >1.80</text>
<text transform="translate(1315.5,1628.9) scale(1,1.05)" font-size="31.3" text-anchor="start" fill="#000" font-family='"Liberation Serif", serif' font-weight="normal" >0.270</text>
<line x1="862.1" y1="2002.5" x2="862.1" y2="2009" stroke="#000" stroke-width="1.6" />
<text transform="translate(860.1,2034.5) scale(1,1.07)" font-size="31.5" text-anchor="middle" fill="#000" font-family='"Liberation Serif", serif' font-weight="normal" >1</text>
<line x1="917.22" y1="2002.5" x2="917.22" y2="2009" stroke="#000" stroke-width="1.6" />
<text transform="translate(915.22,2034.5) scale(1,1.07)" font-size="31.5" text-anchor="middle" fill="#000" font-family='"Liberation Serif", serif' font-weight="normal" >2</text>
<line x1="972.33" y1="2002.5" x2="972.33" y2="2009" stroke="#000" stroke-width="1.6" />
<text transform="translate(970.33,2034.5) scale(1,1.07)" font-size="31.5" text-anchor="middle" fill="#000" font-family='"Liberation Serif", serif' font-weight="normal" >3</text>
<line x1="1027.44" y1="2002.5" x2="1027.44" y2="2009" stroke="#000" stroke-width="1.6" />
<text transform="translate(1025.44,2034.5) scale(1,1.07)" font-size="31.5" text-anchor="middle" fill="#000" font-family='"Liberation Serif", serif' font-weight="normal" >4</text>
<line x1="1082.56" y1="2002.5" x2="1082.56" y2="2009" stroke="#000" stroke-width="1.6" />
<text transform="translate(1080.56,2034.5) scale(1,1.07)" font-size="31.5" text-anchor="middle" fill="#000" font-family='"Liberation Serif", serif' font-weight="normal" >5</text>
<line x1="1137.67" y1="2002.5" x2="1137.67" y2="2009" stroke="#000" stroke-width="1.6" />
<text transform="translate(1135.67,2034.5) scale(1,1.07)" font-size="31.5" text-anchor="middle" fill="#000" font-family='"Liberation Serif", serif' font-weight="normal" >6</text>
<line x1="1192.78" y1="2002.5" x2="1192.78" y2="2009" stroke="#000" stroke-width="1.6" />
<text transform="translate(1190.78,2034.5) scale(1,1.07)" font-size="31.5" text-anchor="middle" fill="#000" font-family='"Liberation Serif", serif' font-weight="normal" >7</text>
<line x1="1247.9" y1="2002.5" x2="1247.9" y2="2009" stroke="#000" stroke-width="1.6" />
<text transform="translate(1245.9,2034.5) scale(1,1.07)" font-size="31.5" text-anchor="middle" fill="#000" font-family='"Liberation Serif", serif' font-weight="normal" >8</text>
<text x="944.9" y="2069.6" font-size="44.8" text-anchor="start" fill="#000" font-family='"Liberation Serif", serif' font-weight="normal" >Sampling site</text>
<text x="1061.7" y="1657" font-size="44.5" text-anchor="start" fill="#000" font-family='"Liberation Serif", serif' font-weight="normal" >&lt;0.45 µm Pb</text>
<text transform="translate(1344.8,1824.8) scale(1,1.02)" font-size="40.5" text-anchor="start" fill="#000" font-family='"Liberation Serif", serif' font-weight="normal" >CF</text>
<text x="712.9" y="1590.6" font-size="30" text-anchor="start" fill="#000" font-family='"Liberation Sans", sans-serif' font-weight="bold" >H</text>
<text transform="translate(735.7,1982.3) rotate(-90)" font-size="33.5" font-family='"Liberation Serif", serif'>Concentration (nmol L<tspan font-size="20.77" dy="-16.08">-1</tspan><tspan dy="16.08" dx="8.38">)</tspan></text>
</svg>
</body></html>
